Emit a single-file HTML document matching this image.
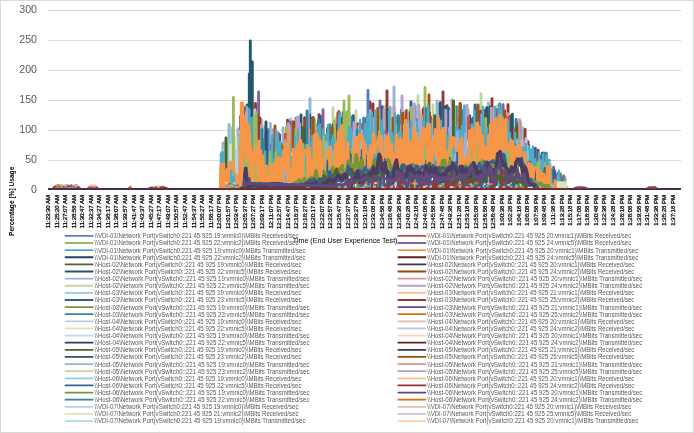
<!DOCTYPE html><html><head><meta charset="utf-8"><style>html,body{margin:0;padding:0;background:#fff}svg{display:block}text{font-family:"Liberation Sans",sans-serif}</style></head><body>
<svg width="694" height="433" viewBox="0 0 694 433">
<rect x="0" y="0" width="694" height="433" fill="#fff"/>
<rect x="0.5" y="0.5" width="693" height="432" fill="none" stroke="#D9D9D9" stroke-width="1"/>
<line x1="48" x2="681" y1="10.5" y2="10.5" stroke="#D9D9D9" stroke-width="1"/>
<line x1="48" x2="681" y1="40.5" y2="40.5" stroke="#D9D9D9" stroke-width="1"/>
<line x1="48" x2="681" y1="70.5" y2="70.5" stroke="#D9D9D9" stroke-width="1"/>
<line x1="48" x2="681" y1="100.5" y2="100.5" stroke="#D9D9D9" stroke-width="1"/>
<line x1="48" x2="681" y1="130.5" y2="130.5" stroke="#D9D9D9" stroke-width="1"/>
<line x1="48" x2="681" y1="160.5" y2="160.5" stroke="#D9D9D9" stroke-width="1"/>
<text x="37" y="193.2" font-size="10.6" fill="#595959" text-anchor="end">0</text>
<text x="37" y="163.2" font-size="10.6" fill="#595959" text-anchor="end">50</text>
<text x="37" y="133.2" font-size="10.6" fill="#595959" text-anchor="end">100</text>
<text x="37" y="103.2" font-size="10.6" fill="#595959" text-anchor="end">150</text>
<text x="37" y="73.2" font-size="10.6" fill="#595959" text-anchor="end">200</text>
<text x="37" y="43.2" font-size="10.6" fill="#595959" text-anchor="end">250</text>
<text x="37" y="13.2" font-size="10.6" fill="#595959" text-anchor="end">300</text>
<g fill="none" stroke-linejoin="round" stroke-linecap="round">
<line x1="48" x2="681" y1="189" y2="189" stroke="#403152" stroke-width="2" stroke-linecap="butt"/>
<path d="M221.8 174V152.2M226 188V151.8M227 188V147.3M228 188V149.4M230.1 172V151.8M232.1 172V135.1M233.2 174.1V158.1M234.5 183V143.6M264.6 162.2V126.9M269 165.5V143.1M270.3 166.2V123.4M274.2 166.1V134.9M282.9 161.4V149.3M301 150V128.3M355.5 143V122M356.2 143V128.2M374.4 142.9V124.9M402.1 139V110.4M424.8 132.1V114.6M431.7 135.7V117.3M437.3 138.4V117.6M439.7 139.8V118.5M441.5 139.7V121.5M456.1 142V119.2M476.6 136.7V106.2M488.4 137.7V102.9M498.3 124V106.3M528.9 163.9V144.9M532.5 166.5V153.1M535.7 168.7V148.2M223 172V143M229 178V124.5M238 184V129M270 164V129M283 159.3V128M310 148.5V98.6M394 142.9V87M437 136.2V101M458 141V107M465 139V106" stroke="#95B3D7" stroke-width="2.9"/>
<path d="M223.9 174V150.3M242 121V111.3M253.9 157.4V106.5M306.6 152.2V121.5M307.4 152.6V121.8M323.1 146.9V126.1M324.4 147.2V133.8M335 142.2V121.2M336.1 140.7V117.6M384.9 145V106.3M391.9 145.5V108.4M397.4 143.6V121.2M408.4 138.2V114.7M417.6 135.5V111.2M442.8 139.4V106.8M443.9 139.2V125.1M452.1 140V122.3M458.9 143.4V125.2M463.6 141.8V124.9M479.9 136V105.9M495.6 127.3V110.8M524.8 159.8V129.2M533.9 167.4V154.8M537 170V157.2M262 158V120M333 143V107.7M339 135V115.9M356 141V111M418 133.4V96M433 134.2V105M448 137V108M481 134.2V93.6M497 123.6V106M546 172.7V157" stroke="#C3D69B" stroke-width="2.9"/>
<path d="M225.3 185.9V142.9M228.7 184.3V140.5M231.1 172V127.9M237.1 186V138.1M284.3 160.2V144.5M290.7 150.2V118.8M294.2 153.4V133.2M341.9 134.1V118.2M362.2 142.8V130.2M511.5 145.6V127.4M523 158V127.8M541.3 173.4V156M298 148V117" stroke="#93CDDD" stroke-width="2.9"/>
<path d="M235.6 185.3V137.6M238.2 186V157.7M230.5 170V145" stroke="#D7E4BD" stroke-width="2.9"/>
<path d="M236.4 186V151M260.5 161.4V127.1M317.2 146.7V127M322.2 146.6V126.1M380 144V120.8M390.5 145.9V114.8M447.7 139V123M457.3 142.6V122.8M465.6 140.6V123.2M512.9 147.2V120.1M520.3 155.3V145.9M543.2 173.9V156.6" stroke="#B9CDE5" stroke-width="2.9"/>
<path d="M240.4 129.5V116.4M248 133V112.7M265.8 163.2V133.6M271.2 166.6V144.7M289.5 146.6V129.4M325.8 147.7V136.3M347.3 145.7V115.6M348.1 144.9V118.3M360.3 143V129.8M364.8 142.5V118.6M376.8 143.4V113.3M386.9 145.4V110.1M395.2 144.5V117M412.1 137.2V120.9M417 135.6V119.6M428.1 133.8V114.8M430.6 135.3V117.6M436.1 137.7V124.1M440.4 139.9V102.4M462.2 142.7V112.1M496.8 125.8V109.6M501.8 124.9V109.6M527.8 162.8V148.6M554.5 188V170.9M557.5 188V178.8M258.6 161.1V92M290 146V122M323 144.9V109.7M353 141V116M380 142V101M503 124.8V104.8M553 186V170" stroke="#8064A2" stroke-width="2.9"/>
<path d="M242.8 121V114.8M257.3 164.2V113.7M278.8 164.1V140.4M279.5 163.8V134.7M287.6 131.6V120.2M293.3 152.7V122M296.1 152.6V118.1M304.6 151V117.7M319.5 146.1V116M327.5 147.7V128.4M330.9 146V127.9M333.1 144.8V124.6M337.9 138.1V113.3M357.9 143V123.9M369.9 142V108M410 138V112.6M423.1 133.2V109.6M424 132.6V107.9M429.6 134.7V113.4M447 139V105.8M452.6 140.3V113.8M472.5 137.5V118.9M475.6 136.9V113.4M480.5 136.1V111.1M484.4 136.9V110.2M492.1 133.8V114.6M494.9 128.1V112.5M507.1 135.9V116.7M517.4 152.1V123.3M538.1 171.1V150.3M251.5 154.4V106M255.5 156V103.5M260 159.8V118M278 162.5V133M319 144.2V114.6M329 145V125.7M370 140V102M373 140.6V104M387 143.4V91M398 141V116M443 137.4V92M485 135V111M492 132V98.6M508 136.4V104.8M525 158V129.4M528 161V141.8M538 169V155" stroke="#953735" stroke-width="2.9"/>
<path d="M243.3 121V107.3M267.9 164.9V129.7M329.8 146.6V124.7M346.6 146.4V122M352 143V117.3M363.6 142.6V118.3M458.3 143.2V128.8M459.8 143.9V117M487.5 137.5V108.2M493.6 130.9V113.6M546.3 174.8V153.3M547.1 175.1V161M553.6 188V167.1M556.1 188V177.5M368 140.2V90.4M415 134V106" stroke="#4F81BD" stroke-width="2.9"/>
<path d="M244.3 121V108M250 145.2V121.3M266.5 163.7V131.6M302 150V138.4M310.7 149.7V118.1M320.4 146.1V116.5M337 139.4V125.5M340.9 135.1V118.5M344.1 143.6V116.5M348.8 144.2V112.6M350.8 143V128.3M353.2 143V115.8M382.2 144.4V106.6M401.4 139.6V110M404.9 138.6V119.7M415.6 135.9V123.8M426.8 133.1V117.3M442.2 139.6V107.9M448.5 139V108.2M473.5 137.3V117.7M477.2 136.6V109.9M479.3 136.1V112.6M490.5 137.1V114.5M503.2 127.2V118.9M535.1 168.1V148.5M539.3 172.3V156.8M542.1 173.6V153.2M549.4 179V160.7M558.2 188V173.6M561 188V178.5M562.3 188V181.1M243 125V121M247 131V105M411 135.6V102M456 140V107M475 135V105M543 171.9V158" stroke="#376092" stroke-width="2.9"/>
<path d="M245.3 121V111.1M252.9 157V117.7M259.4 162.4V141.9M305.3 151.4V137.3M305.9 151.8V129M309.7 150.9V115M311.8 148.3V135.8M339.7 136.3V115.2M343.2 139.6V112.4M388.3 145.7V109M413.5 136.6V118.1M445.3 139V106.8M451.5 139.7V115M460.4 143.7V103.9M469.7 138.2V115.6M486.7 137.3V107.6M489.9 138V114.8M505.7 132V118.6M510 144V116.2M512.3 146.5V114.1M552.5 186.8V171.1M555.4 188V175.6M252.3 154.7V62M250.3 149.4V41M249.3 131V74M266 161.3V122M301 148V115M440 138V103.5M490 136V107M511 143.1V116M520 153V122M532 164.2V151.7M564 188V177" stroke="#215968" stroke-width="2.9"/>
<path d="M246.6 133V112M254.9 157.8V109.8M258 163.6V149.2M276.2 165.3V132.2M288.9 144V125.2M359.2 143V125.7M420.1 134.9V111M438.7 139.2V128M450.7 139.3V110.6M494.3 129.3V108.9M518.1 153V128.1M521.5 156.5V140.9M526.2 161.2V138.5M527.1 162.1V146.1M550 179.9V162" stroke="#CCC1DA" stroke-width="2.9"/>
<path d="M247.1 133V107.8M261.4 160.5V125.3M273.1 166.6V129.8M276.8 165.1V151.2M288.1 136.9V123.5M292 151.8V128.7M296.7 151.7V118.2M297.9 150.1V117.1M298.5 150V120.9M299.6 150V123.8M308.3 152.6V113.7M315.2 147.2V129.2M353.9 143V122.7M354.9 143V123.6M367.7 142.2V130.6M370.4 142.1V110.6M373.1 142.6V118.3M383.7 144.7V129M391.3 145.6V131.6M394.1 144.8V106.7M400 141V126.4M406.2 138.5V123.8M407.2 138.4V110.1M407.8 138.3V120.9M414.2 136.3V103.8M418.8 135.2V105.2M433.2 136.3V120.1M437.9 138.7V115.5M445.8 139V110.3M449.5 139V128.1M454.1 141V109.5M467.1 139.7V105.2M478.7 136.3V127.3M481.9 136.4V114.7M501 123.7V110.5M523.9 158.9V141.9M540.3 173.1V160.5M545.7 174.6V156.1M313 145.8V120M384 142.8V110M390 144V107M402 137V96M452 138V100M468 137.2V110M550 178V165M558 188V176" stroke="#B3A2C7" stroke-width="2.9"/>
<path d="M255.4 158V123.2M308.9 151.8V130M316.6 146.9V124.5M421.6 134V115.8M491.3 135.5V108.1M508 138.4V113.7M519.5 154.5V119.7" stroke="#D99694" stroke-width="2.9"/>
<path d="M256.2 162.9V112.8M286.3 134.2V127.5M295.2 153.7V129.6M314.4 147.4V119.2M334.5 142.9V121M345.3 147.7V113.6M365.7 142.4V125.5M378.8 143.8V110M396.5 144.1V124.7M411.4 137.5V107.6M455 141.5V107.4M485.7 137.1V118.5M518.7 153.6V138M529.9 164.9V152.6M544.9 174.4V156.2M233.4 174V97.5M241 141V137M254 155.4V117M344 141.3V101M349 142V96M347 144V112M425 130V87.5" stroke="#9BBB59" stroke-width="2.9"/>
<path d="M262 160V129.6M263.2 161V139.1M272.5 166.8V139.7M275.3 165.7V133.8M318.3 146.4V120.3M328.8 147.1V126.4M357.2 143V130.2M398.6 142.4V115.9M426.1 132.7V108.8M461.4 143.2V110M470.5 137.9V124.6M499.7 122.4V104M516.1 150.8V119.5M543.8 174.1V152.9M560.4 188V174M307 150.4V111" stroke="#31859C" stroke-width="2.9"/>
<path d="M281.2 162.8V144.2M282.3 161.9V146.7M313.2 147.7V117.5M321.6 146.5V128.8M332.1 145.4V127.9M349.6 143.4V129.7M366.8 142.3V118.1M377.7 143.5V108.4M393 145.1V118.2M402.7 138.9V113.2M409.2 138.1V126.4M428.8 134.3V117.7M504.6 129.3V110.8M275 163.8V126M293 150.5V122M406 136.5V111M429 132.4V95M460 142V103.5M478 134.4V105M516 148.6V128" stroke="#A5520F" stroke-width="2.9"/>
<path d="M285.4 144.8V134.1M338.8 137.2V111.5M361.6 142.8V124.4M386 145.2V131.3M468.6 138.9V117.1M508.8 140.7V117.4M514.3 148.7V130.1M563.7 188V176" stroke="#C0504D" stroke-width="2.9"/>
<path d="M303.2 150.1V128M403.7 138.8V122.6M434.7 136.9V115.7M516.8 151.5V126.6M226 186V138M453.5 138.8V101" stroke="#4F6228" stroke-width="2.9"/>
<path d="M220 187.5l.5 0 .5-21.4 .5 21.4 .5-23.1 .5 23.1 .5-16.8 .5 16.8 .5-18.1 .5 18.1 .5-7.3 .5 7.3 .5-7.2 .5 7.2 .5-7.6 .5 7.6 .5-11.1 .5 11.1 .5-12.3 .5 12.3 .5-10.5 .5 10.5 .5-18 .5 18 .5-10.7 .5 10.7 .5-10.7 .5 10.7 .5-12.6 .5 12.6 .5-14.6 .5 14.6 .5-9.7 .5 9.7 .5-6.7 .5 6.7 .5-4.6 .5 4.6 .5-8.1 .5 8.1 .5-23.8 .5 23.8 .5-39.8 .5 39.8 .5-39.2 .5 39.2 .5-76.5 .5 75.3 .5-30.5 .5 23.2 .5-42.2 .5 34.2 .5-49.2 .5 57.2 .5-40.9 .5 45.6 .5-57 .5 56.3 .5-30.1 .5 30.1 .5-38 .5 40.7 .5-25.8 .5 25.1 .5-28.3 .5 27.6 .5-28 .5 28.4 .5-18.6 .5 19.9 .5-16.2 .5 17.5 .5-31.2 .5 31.4 .5-12.7 .5 12.3 .5-35.1 .5 34.5 .5-12.6 .5 12 .5-22 .5 21.4 .5-16.8 .5 16.9 .5-26.5 .5 27.2 .5-12.9 .5 13.7 .5-28.8 .5 29.4 .5-16.7 .5 16.7 .5-21.7 .5 21.7 .5-19.4 .5 19.2 .5-20.5 .5 20.2 .5-14 .5 13.7 .5-21.3 .5 21 .5-16.8 .5 16.5 .5-50.3 .5 50.1 .5-27.2 .5 27.1 .5-14.2 .5 14.1 .5-18.4 .5 18.3 .5-54.9 .5 54.7 .5-28.8 .5 28.7 .5-25 .5 24.9 .5-31.6 .5 31.5 .5-28.9 .5 28.9 .5-20.3 .5 20.5 .5-19 .5 19.2 .5-35.5 .5 35.7 .5-13.5 .5 13.7 .5-46.2 .5 46.4 .5-35.9 .5 36.1 .5-45.1 .5 45.3 .5-42.3 .5 42.5 .5-37.7 .5 37.9 .5-39.5 .5 39.5 .5-30.6 .5 30.4 .5-24.2 .5 24 .5-25.4 .5 25.2 .5-16.9 .5 16.7 .5-49.2 .5 49 .5-32.1 .5 31.9 .5-25.5 .5 24.8 .5-55.3 .5 54.5 .5-29.8 .5 29 .5-41.1 .5 40.5 .5-15.2 .5 15 .5-39.4 .5 39 .5-32.8 .5 32.6 .5-29.8 .5 29.4 .5-26.9 .5 26.7 .5-36.8 .5 36.4 .5-15 .5 14.8 .5-14.9 .5 14.5 .5-22.7 .5 22.5 .5-37.4 .5 37 .5-29 .5 28.8 .5-43.2 .5 42.8 .5-33 .5 32.8 .5-33.2 .5 32.8 .5-28.3 .5 28.1 .5-40.3 .5 39.9 .5-43.5 .5 43.3 .5-51.2 .5 50.8 .5-38.5 .5 38.3 .5-52.9 .5 52.6 .5-22.4 .5 22.2 .5-30.8 .5 30.6 .5-47.1 .5 46.9 .5-37 .5 36.8 .5-26.8 .5 26.6 .5-21.1 .5 20.9 .5-20.4 .5 20.2 .5-50.7 .5 50.5 .5-33.3 .5 33.1 .5-24.3 .5 24.1 .5-19.5 .5 19.3 .5-35.2 .5 35 .5-39.1 .5 38.9 .5-33.8 .5 33.6 .5-28.5 .5 28.3 .5-30.9 .5 30.7 .5-16.9 .5 16.7 .5-38.4 .5 38.2 .5-58.1 .5 57.9 .5-60.5 .5 60.4 .5-19.4 .5 19.2 .5-22.5 .5 22.5 .5-18.7 .5 18.5 .5-34.8 .5 34.8 .5-29.1 .5 28.9 .5-19.6 .5 19.6 .5-20.9 .5 20.7 .5-35.8 .5 35.8 .5-44.5 .5 44.3 .5-28.3 .5 28.3 .5-43.8 .5 43.6 .5-28.7 .5 28.7 .5-27.1 .5 26.9 .5-19.7 .5 19.7 .5-29.7 .5 29.5 .5-31.2 .5 31.2 .5-29.5 .5 29.3 .5-26.5 .5 26.5 .5-16.9 .5 16.7 .5-35.7 .5 35.7 .5-40.1 .5 40.1 .5-26.4 .5 26.4 .5-34.6 .5 34.6 .5-27.8 .5 27.8 .5-46.9 .5 46.9 .5-30.9 .5 30.9 .5-54.4 .5 54.4 .5-18.1 .5 18.1 .5-39.9 .5 39.9 .5-19.2 .5 19.2 .5-40.6 .5 40.6 .5-22.4 .5 22.4 .5-32.4 .5 32.4 .5-20.7 .5 20.7 .5-34.5 .5 34.5 .5-32.7 .5 32.7 .5-24.4 .5 24.4 .5-33.9 .5 33.9 .5-24.3 .5 24.3 .5-35.9 .5 35.9 .5-36.2 .5 36.2 .5-33.8 .5 33.8 .5-28 .5 28 .5-30.2 .5 30.2 .5-31.8 .5 31.8 .5-32 .5 32 .5-23.2 .5 23.2 .5-16.7 .5 16.7 .5-23 .5 23 .5-15.9 .5 15.9 .5-34.5 .5 34.3 .5-37.6 .5 37.6 .5-34.2 .5 34 .5-32.3 .5 32.3 .5-57.1 .5 56.9 .5-19.8 .5 19.8 .5-22.6 .5 22.4 .5-31 .5 31 .5-37.8 .5 37.6 .5-37.2 .5 37.2 .5-37.7 .5 37.8 .5-27 .5 27 .5-25.6 .5 25.7 .5-24.7 .5 24.7 .5-33.1 .5 33.2 .5-15 .5 15 .5-47.6 .5 47.7 .5-42.8 .5 42.8 .5-20.5 .5 20.6 .5-41.1 .5 41.1 .5-49.2 .5 49.3 .5-39.5 .5 39.5 .5-24.8 .5 24.9 .5-19.1 .5 19.1 .5-28.5 .5 28.6 .5-48.7 .5 48.7 .5-48.4 .5 48.5 .5-37.6 .5 37.6 .5-40.8 .5 40.9 .5-24.9 .5 24.9 .5-40.6 .5 40.6 .5-28.2 .5 28.2 .5-49.8 .5 49.8 .5-41 .5 41 .5-27.9 .5 27.9 .5-20 .5 20 .5-38 .5 38 .5-66 .5 66 .5-17.8 .5 17.8 .5-34.4 .5 34.4 .5-43.2 .5 43.2 .5-16.2 .5 16.2 .5-23.5 .5 23.5 .5-36.6 .5 36.6 .5-22.5 .5 22.5 .5-37.9 .5 37.9 .5-40 .5 40 .5-47.4 .5 47.4 .5-27.3 .5 27.3 .5-20.6 .5 20.6 .5-16 .5 15.9 .5-38.6 .5 38.6 .5-26 .5 25.9 .5-42.9 .5 42.9 .5-34.1 .5 34 .5-37.5 .5 37.5 .5-35 .5 34.9 .5-17.4 .5 17.4 .5-37.3 .5 37.2 .5-23.3 .5 23.3 .5-26.9 .5 26.8 .5-30.9 .5 30.9 .5-18.9 .5 18.8 .5-25.6 .5 25.6 .5-30.5 .5 30.4 .5-43 .5 43 .5-41.7 .5 41.6 .5-19.8 .5 19.8 .5-40.1 .5 40 .5-39.1 .5 39.1 .5-31.1 .5 31 .5-44.1 .5 44.1 .5-41.1 .5 41 .5-63.8 .5 63.8 .5-24.9 .5 24.8 .5-23.8 .5 23.8 .5-14.7 .5 14.6 .5-17.5 .5 17.5 .5-35.6 .5 35.5 .5-32.7 .5 32.7 .5-20.8 .5 20.7 .5-40.6 .5 40.6 .5-25.7 .5 25.6 .5-38.2 .5 38.2 .5-17.1 .5 17 .5-29.7 .5 29.7 .5-27.4 .5 27.3 .5-37.2 .5 37.2 .5-42.6 .5 42.5 .5-42.9 .5 42.8 .5-26.5 .5 26.3 .5-17.6 .5 17.4 .5-46.5 .5 46.3 .5-28.1 .5 27.9 .5-29 .5 28.8 .5-32.2 .5 32 .5-39.8 .5 39.6 .5-16.5 .5 16.3 .5-24.9 .5 24.7 .5-33.2 .5 33 .5-29 .5 28.8 .5-20 .5 19.8 .5-43.1 .5 42.9 .5-39.6 .5 39.4 .5-59.1 .5 58.5 .5-44.4 .5 43.4 .5-29.8 .5 28.8 .5-47.6 .5 46.6 .5-57.5 .5 56.5 .5-35.8 .5 35.8 .5-53.5 .5 54.5 .5-38.3 .5 39.3 .5-46.3 .5 47.3 .5-23.7 .5 24.7 .5-30.4 .5 31.4 .5-36.4 .5 37.4 .5-16.9 .5 17.9 .5-47.8 .5 48.8 .5-26.8 .5 27.8 .5-37.3 .5 37.2 .5-17.6 .5 16.4 .5-26.9 .5 25.7 .5-25 .5 23.8 .5-25.4 .5 24.2 .5-17.6 .5 16.9 .5-12.8 .5 12.6 .5-15.4 .5 15.2 .5-21 .5 20.8 .5-15.1 .5 14.9 .5-13.1 .5 13.9 .5-10.6 .5 12.4 .5-11.6 .5 13.4 .5-21.1 .5 22.9 .5-19.3 .5 21.1 .5-18.3 .5 20.2 .5-29.9 .5 31.9 .5-14.6 .5 16.6 .5-17.5 .5 19.5 .5-33.1 .5 35.1 .5-21.5 .5 22.4 .5-24.2 .5 24.7 .5-19 .5 19.4 .5-37.4 .5 37.9 .5-16.9 .5 17.4 .5-26 .5 26.4 .5-21.2 .5 21.6 .5-14.6 .5 15 .5-11.2 .5 11.6 .5-34.1 .5 34.5 .5-20 .5 20.4 .5-20.9 .5 21.2 .5-20.4 .5 20.4 .5-33 .5 33 .5-22.7 .5 22.7 .5-20.1 .5 20.1 .5-27.9 .5 27.9 .5-31.4 .5 31.4 .5-9.2 .5 9.2 .5-21.1 .5 21.1 .5-16.7 .5 16.7 .5-6.8 .5 6.8 .5-6.9 .5 6.9 .5-4.5 .5 4.5 .5-9.4 .5 9.4 .5-14.5 .5 14.5 .5-5 .5 5 .5-6.3 .5 6.3 .5-6.2 .5 6.2 .5-16.5 .5 16.5 .5 0 .5 0 .5-5.4 .5 5.4 .5 0 .5 0 .5 0 .5 0 .5 0 .5 0 .5 0 .5 0 .5 0 .5 0 .5 0" stroke="#4BACC6" stroke-width="2.3"/>
<path d="M221 174V153.7M223.1 174V152.3M239.3 186V161.3M241.4 121V111.7M249.3 133V109.6M251.5 156.4V118.2M265.1 162.6V151.5M277.9 164.6V133.6M280.3 163.3V141.7M326.8 148V134.5M368.5 142.2V114.4M371.7 142.3V112.7M375.5 143.1V110.5M381.3 144.3V120.6M383 144.6V130.1M389.2 145.8V110.7M441 139.8V121.1M464.5 141.3V121.3M471.9 137.6V124.8M474.4 137.1V110.6M482.9 136.6V107.1M515.2 149.8V133M531.1 165.7V149.8M548.1 176.9V160.1M551.3 183.6V169.4M559.2 188V183.3M565.1 188V178.3M360 141V120" stroke="#4BACC6" stroke-width="2.5"/>
<path d="M220.5 187l1.1 0 1.2 0 1.2 0 1.1-2.3 1.2 2.3 1.1 0 1.2-5.4 1.1 5.4 1.2 0 1.1 0 1.2 0 1.1 0 1.2 0 1.1 0 1.2 0 1.1 0 1.2-53.6 1.1 7.7 1.2 45.9 1.1-3.7 1.2-8.5 1.1-4.4 1.2 7.7 1.1 4.3 1.2-3.9 1.1 4.2 1.2-.7 1.1-.8 1.2 .9 1.1 1.6 1.2 1.2 1.1-33 1.2 31.6 1.1-.7 1.2-.7 1.1 .6 1.2 .8 1.1 .9 1.2 .5 1.1-.3 1.2-.4 1.1-.3 1.2-.3 1.1-.3 1.2-.3 1.1-.2 1.2-.1 1.1-.2 1.2-.1 1.1-.2 1.2-.1 1.1 0 1.2 .2 1.1 .2 1.2 .3 1.1-31.4 1.2-8 1.1 40 1.2 .3 1.1 .2 1.2 0 1.1-.3 1.2-14.5 1.1 14.1 1.2-.3 1.1-.2 1.2-.7 1.1-1 1.2-.9 1.1-.4 1.2-.3 1.1-.4 1.2-.3 1.1-.4 1.2-.3 1.1-.4 1.2-.3 1.1-.4 1.2-.3 1.1-.4 1.2-14.7 1.1 14.1 1.2-.4 1.1-22.2 1.2 21.5 1.1-6.1 1.2 5.5 1.1-.2 1.2-.3 1.1-.2 1.2-.2 1.1-31.2 1.2 30.7 1.1-19.8 1.2 11 1.1-16.5 1.2 24.4 1.1-.2 1.2-.3 1.1-.2 1.2-.2 1.1-.3 1.2-.2 1.1-.2 1.2-.1 1.1-.1 1.2-.2 1.1-.1 1.2-.1 1.1-.1 1.2-5.3 1.1 5.1 1.2-.1 1.1-.2 1.2-18 1.1-19.6 1.2 14.1 1.1 23.1 1.2-30.2 1.1 6.6 1.2-2.3 1.1 25.5 1.2-37.7 1.1 28.8 1.2 8.9 1.1 0 1.2 0 1.1 0 1.2-8.8 1.1 8.8 1.2 0 1.1 0 1.2 0 1.1 0 1.2 0 1.1 0 1.2-9.2 1.1 9.2 1.2-5.8 1.1 5.8 1.2 0 1.1 0 1.2-32.8 1.1 32.8 1.2-6.3 1.1-28 1.2 34.3 1.1-.1 1.2-.1 1.1-.1 1.2-.1 1.1-.1 1.2-13.6 1.1 6.4 1.2 6.8 1.1-.1 1.2 .1 1.1 0 1.2 .1 1.1 0 1.2 .1 1.1 0 1.2-42.8 1.1 43 1.2 0 1.1 .1 1.2-1.2 1.1 1.3 1.2-45.7 1.1 45.8 1.2-34.7 1.1 34.8 1.2 .1 1.1-48.1 1.2 48.1 1.1 0 1.2 0 1.1 0 1.2 0 1.1-44.5 1.2 44.5 1.1 0 1.2 0 1.1 0 1.2 0 1.1 0 1.2 0 1.1-33.6 1.2 30.3 1.1 3.3 1.2 0 1.1-.1 1.2-33.7 1.1 33.6 1.2 0 1.1-.1 1.2-.1 1.1 0 1.2-15.6 1.1-25 1.2 35.5 1.1 4.9 1.2-.1 1.1-12.7 1.2 12.6 1.1-35.1 1.2 17.9 1.1 17 1.2-26.6 1.1-1.4 1.2 27.8 1.1-14.4 1.2-18.9 1.1 33.2 1.2-3.2 1.1 3.1 1.2-.1 1.1-.1 1.2 0 1.1-.1 1.2 0 1.1-.1 1.2-28.3 1.1 28.2 1.2-27.7 1.1 27.5 1.2-5.7 1.1 5.3 1.2-.3 1.1-.2 1.2-.2 1.1-.3 1.2-29.4 1.1 .9 1.2 27.8 1.1-.2 1.2-.2 1.1-.2 1.2-.6 1.1-1.1 1.2-1.2 1.1-1.1 1.2-3.7 1.1 3.6 1.2 1.2 1.1 1.1 1.2-34.2 1.1 36.5 1.2-16.7 1.1 19 1.2 1.2 1.1-17.2 1.2 16.3 1.1-1.4 1.2-1.4 1.1-1.4 1.2-.3 1.1-22.1 1.2 21.6 1.1-.2 1.2 1.1 1.1 2 1.2 2.1 1.1 2.1 1.2 2.1 1.1 2.3 1.2-21.9 1.1 26.5 1.2 2.2 1.1 .5 1.2-9.8 1.1 10.9 1.2 .5 1.1 .5 1.2 .5 1.1 .5 1.2 .4 1.1 .5 1.2 .4 1.1 .5 1.2 .4 1.1 .1 1.2 .2 1.1 .1 1.2-9.8 1.1 10 1.2 .2 1.1 .1 1.2 .1 1.1 .2 1.2 .1 1.1 .1 1.2 .1 1.1 .1 1.2 0 1.1 0 1.2 0 1.1 0 1.2 0 1.1 0" stroke="#95B3D7" stroke-width="2.3"/>
<path d="M220.5 180.7l1.1 6.3 1.2-1.6 1.2 1.6 1.1 0 1.2 0 1.1 0 1.2 0 1.1 0 1.2 0 1.1 0 1.2 0 1.1 0 1.2 0 1.1 0 1.2 0 1.1-.8 1.2 .8 1.1-48.2 1.2 48.2 1.1-3.7 1.2-8.5 1.1-23.9 1.2 27.2 1.1 4.3 1.2-21.5 1.1 21.8 1.2-.7 1.1-20.7 1.2 20.8 1.1-27.4 1.2 30.2 1.1-.7 1.2-11.3 1.1 9.9 1.2-.7 1.1 .6 1.2-26.5 1.1 28.2 1.2 .5 1.1-.3 1.2-.4 1.1-1.9 1.2-30.4 1.1 31.4 1.2-.3 1.1-.2 1.2-.1 1.1-30.6 1.2 30.3 1.1-23.7 1.2 12.8 1.1-10 1.2 20.8 1.1 .2 1.2 .3 1.1 .2 1.2 .2 1.1 .2 1.2 .3 1.1 .2 1.2 0 1.1-.3 1.2-.2 1.1-.2 1.2-.3 1.1-.2 1.2-.7 1.1-1 1.2-.9 1.1-.4 1.2-.3 1.1-34.9 1.2 34.2 1.1-.4 1.2-2.8 1.1 2.1 1.2-.3 1.1-.4 1.2-.3 1.1-.4 1.2-.3 1.1-.3 1.2-36.9 1.1 36.2 1.2-38.4 1.1 37.7 1.2-10.4 1.1 9.8 1.2-.2 1.1-36.9 1.2 36.5 1.1-19.5 1.2 19 1.1-10.2 1.2 9.7 1.1-.2 1.2-.2 1.1-19.5 1.2 4.5 1.1 12.8 1.2 1.3 1.1-.3 1.2-.2 1.1-.2 1.2-.1 1.1-.1 1.2-.2 1.1-.1 1.2-.1 1.1-.1 1.2-.1 1.1-.1 1.2-.1 1.1-19 1.2 18.7 1.1-.1 1.2-.1 1.1-.1 1.2-6.5 1.1 6.2 1.2-9.4 1.1 9.3 1.2 0 1.1 0 1.2 0 1.1 0 1.2 0 1.1 0 1.2 0 1.1 0 1.2-7.9 1.1-5.4 1.2 13.3 1.1 0 1.2 0 1.1 0 1.2 0 1.1-36.5 1.2 36.5 1.1 0 1.2 0 1.1 0 1.2 0 1.1 0 1.2 0 1.1 0 1.2-30.1 1.1 30 1.2-.1 1.1-.1 1.2-8.3 1.1 8.1 1.2-29.7 1.1 29.4 1.2-.1 1.1-.1 1.2 .1 1.1 0 1.2 .1 1.1-42.4 1.2 42.5 1.1 0 1.2 .1 1.1-7.4 1.2 7.5 1.1 .1 1.2 0 1.1-27.4 1.2 27.5 1.1 .1 1.2 .1 1.1 0 1.2 .1 1.1 0 1.2 0 1.1 0 1.2-22.8 1.1 22.8 1.2 0 1.1 0 1.2 0 1.1 0 1.2 0 1.1 0 1.2 0 1.1 0 1.2 0 1.1 0 1.2 0 1.1 0 1.2 0 1.1-.1 1.2 0 1.1-.1 1.2 0 1.1-.1 1.2-.1 1.1 0 1.2-.1 1.1-26.1 1.2 26 1.1 0 1.2-.1 1.1-.1 1.2 0 1.1-.1 1.2 0 1.1-.1 1.2 0 1.1-.1 1.2-.1 1.1 0 1.2-.1 1.1 0 1.2-.1 1.1-7.7 1.2-15.3 1.1 21.9 1.2 .9 1.1-.1 1.2 0 1.1-.1 1.2-32.8 1.1 32.7 1.2-.1 1.1-.1 1.2-.2 1.1-.2 1.2-1.9 1.1 1.4 1.2-.2 1.1-.3 1.2-.2 1.1-.2 1.2-.3 1.1-.2 1.2-.2 1.1-.2 1.2-.6 1.1-1.1 1.2-1.2 1.1-1.1 1.2-1.2 1.1 1.1 1.2 1.2 1.1 1.1 1.2 1.2 1.1-22.2 1.2 24.5 1.1 1.1 1.2-11.9 1.1 13.5 1.2-1.3 1.1-1.4 1.2-6.5 1.1 3.7 1.2-.3 1.1-3.4 1.2 2.9 1.1-.2 1.2 1.1 1.1 2 1.2 2.1 1.1-7.7 1.2-2.3 1.1 16.5 1.2 .6 1.1 4 1.2 2.2 1.1 .5 1.2 .6 1.1 .4 1.2 .6 1.1 .5 1.2 .5 1.1-20.7 1.2 5.1 1.1 17 1.2 .4 1.1-13.6 1.2 14.5 1.1-22.1 1.2 22.4 1.1 .1 1.2 .1 1.1 .1 1.2 .2 1.1 .1 1.2 .1 1.1 .2 1.2 .1 1.1-4.4 1.2 4.6 1.1 .1 1.2 0 1.1 0 1.2 0 1.1 0 1.2 0 1.1 0" stroke="#9BBB59" stroke-width="2.3"/>
<path d="M322.9 182.8V170.8M324 184.7V172.7M327.5 172.6V160.6M328.6 173.4V161.4M329.8 175.6V163.6M332.1 182.7V170.7M349.3 163.6V151.6M350.5 166.7V154.7M351.6 177.8V165.8M352.8 178.6V166.6M353.9 175.5V163.5M355.1 177.5V165.5M356.2 177.8V165.8M357.4 167.1V155.1M358.5 174.5V162.5M359.7 169.9V157.9M360.8 174.3V162.3M362 162.3V150.3M365.4 166V154M367.7 171.8V159.8M368.9 174.8V162.8M370 171.2V159.2M380.4 175.9V163.9M381.5 172.7V160.7M382.7 169.5V157.5M383.8 170.3V158.3M385 173.4V161.4M386.1 167.8V155.8M387.3 166.6V154.6M411.4 176.8V164.8M412.6 177.7V165.7M413.7 166.2V154.2M414.9 168.5V156.5M416 179.8V167.8M417.2 169.3V157.3M418.3 176.5V164.5M426.4 173.2V161.2M436.7 173.3V161.3M437.9 173.3V161.3M439 171V159M440.2 169.8V157.8M441.3 173.6V161.6M448.2 175V163M449.4 169.9V157.9M456.3 174V162M457.4 162.6V150.6M480.4 175.3V163.3M481.6 165.8V153.8M482.7 170.7V158.7M483.9 167.3V155.3M486.2 164.2V152.2M487.3 166.9V154.9M488.5 158.3V146.3M491.9 160.3V148.3M512.6 175.6V163.6M513.8 157.9V145.9M514.9 156.8V144.8M524.1 164.5V152.5M528.7 173.9V161.9M529.9 174.1V162.1M534.5 181.3V169.3M535.6 185.7V173.7M543.7 183.8V171.8M544.8 180.3V168.3M547.1 187V185.1M549.4 187V177.5M554 182V170M555.2 183.6V171.6M562.1 187V185.9M565.5 187V185.8" stroke="#376092" stroke-width="2.4"/>
<path d="M220 188l.5-18.7 .5-5.3 .5 5.3 .5-5.3 .5 24 .5-24 .5 24 .5-24 .5 24 .5-17 .5 17 .5-10 .5 10 .5-19.1 .5 19.1 .5-19.1 .5 19.1 .5-18 .5-1.9 .5-6.1 .5 6.1 .5-6.1 .5 6 .5-6 .5 5.6 .5-5.6 .5 5.6 .5 4.4 .5 1 .5 1 .5 1 .5 1 .5 9.9 .5-9.9 .5 9.9 .5-9.6 .5 0 .5 0 .5 0 .5-32.5 .5 41 .5-81.8 .5 81.8 .5-81.8 .5 81.7 .5-81.7 .5 53.7 .5-40.6 .5 33.2 .5-33.2 .5 25.2 .5-19.2 .5 35.5 .5-33.1 .5 37.8 .5-37.8 .5 37.1 .5-37.1 .5 37.1 .5-27.1 .5 48.1 .5-36.4 .5 35.7 .5-29.5 .5 28.8 .5-28.4 .5 28.8 .5-28.4 .5 8.2 .5-13.6 .5 14.9 .5-11.2 .5 11.6 .5-13.6 .5 13 .5-20.9 .5 42.9 .5-43.8 .5 43.2 .5-32.4 .5 30.7 .5-31.6 .5 35.8 .5-31.4 .5 32.1 .5-31.3 .5 32.1 .5-21.3 .5 16.8 .5-15.9 .5 16.1 .5-18.2 .5 19 .5-18.1 .5 17.8 .5-7.7 .5 7.4 .5-6.9 .5 7.8 .5-7.3 .5 7 .5-20.3 .5 20 .5-19.5 .5 19.7 .5-20.1 .5 19.9 .5-19.7 .5 19.6 .5-20 .5 23.7 .5-28 .5 27.9 .5-28.3 .5 28.2 .5-29.4 .5 27 .5-27.5 .5 27.4 .5-25.8 .5 20.7 .5-21.2 .5 21.4 .5-22.3 .5 22.5 .5-29.2 .5 18.1 .5-18.9 .5 19.1 .5-27.9 .5 28.1 .5-13.1 .5 13.3 .5-16 .5 30.2 .5-53.1 .5 53.3 .5-44 .5 44.2 .5-17 .5 16.7 .5-13.7 .5 13.5 .5-12.8 .5 10.6 .5-32.8 .5 32.6 .5-31.8 .5 31.6 .5-30.9 .5 37.6 .5-38.9 .5 38.9 .5-42.2 .5 42.2 .5-43.5 .5 41 .5-45.1 .5 44.3 .5-44.3 .5 45.9 .5-45.9 .5 45.6 .5-35.6 .5 35.3 .5-35.3 .5 .3 .5 .3 .5-1.5 .5 .3 .5 .3 .5 4 .5 .3 .5 .3 .5 21.7 .5-31.1 .5 36 .5-32.1 .5 31.8 .5-33 .5 32.7 .5-19.8 .5 14.5 .5-15.7 .5 15.4 .5-15.7 .5 15.4 .5-40.2 .5 14.4 .5-14.6 .5 14.3 .5-14.6 .5 40.3 .5-40.5 .5 40.2 .5-29.7 .5 29.4 .5-32.8 .5 38.5 .5-38.7 .5 38.5 .5-38.2 .5 38 .5-15.8 .5 .1 .5 .2 .5 .1 .5 .2 .5 .1 .5 .2 .5-3.9 .5-7.4 .5 .8 .5-.5 .5 .3 .5-.8 .5 .6 .5-6 .5 23 .5-23.5 .5 23.3 .5-.4 .5 .2 .5-.7 .5 1.9 .5-2.4 .5 2.2 .5-3.6 .5 3.4 .5-25.7 .5 27.5 .5-28.9 .5 28.7 .5-30.1 .5 29.9 .5-40.5 .5 41.2 .5-42.2 .5 42 .5-43 .5 42.9 .5-46.2 .5 46.8 .5-47.8 .5 47.7 .5-38.1 .5 38 .5-33.3 .5 30.8 .5 2.4 .5-.5 .5-.5 .5-.5 .5-28.2 .5 11.7 .5-12.7 .5 12.6 .5 9 .5-.5 .5-.5 .5 1.5 .5 0 .5 0 .5 0 .5 0 .5 0 .5 5.9 .5-25.5 .5 25.4 .5-32.7 .5 32.6 .5-32.6 .5 35.4 .5-35.4 .5 35.3 .5-35.3 .5 35.2 .5-38.1 .5 4.9 .5-4.9 .5 4.8 .5-4.7 .5 4.7 .5-4.8 .5 7.2 .5-.1 .5 28.2 .5-28.3 .5 28.3 .5-25.2 .5 0 .5 8.2 .5-.1 .5 0 .5-.1 .5 0 .5 22.6 .5-22.7 .5 22.7 .5-29.6 .5 20.3 .5-20.1 .5 20.1 .5-19.9 .5 7.2 .5-19.9 .5 19.9 .5-19.7 .5 19.7 .5-14.6 .5 14.6 .5-12.1 .5 3.8 .5-3.6 .5 3.6 .5-3.4 .5 3.4 .5-9.2 .5 9.2 .5-9 .5 34.5 .5-34.4 .5 34.4 .5-34.2 .5 34.2 .5-14.2 .5 .1 .5 .1 .5 .1 .5 .1 .5 .1 .5-19.9 .5 29.6 .5-29.4 .5 29.4 .5-29.2 .5 29.2 .5-29 .5 32.2 .5-24.9 .5 24.8 .5-25.1 .5 25 .5-25.3 .5 24.5 .5-14.1 .5 14 .5-14.2 .5 14.1 .5-14.4 .5 14.3 .5-32.9 .5 33.7 .5-34 .5 33.9 .5-23.7 .5 23.6 .5-28.4 .5 31.4 .5-32.4 .5 32.3 .5-33.3 .5 33.4 .5-31.7 .5 31.7 .5-31.8 .5 27.6 .5-43.1 .5 43.1 .5-47.5 .5 55.4 .5-55.5 .5 55.5 .5-44.1 .5 44.2 .5-32.7 .5 24.8 .5-24.9 .5 25 .5-25.6 .5 26.6 .5-27 .5 27 .5-27.4 .5 27.5 .5-41.4 .5 45.7 .5-46.1 .5 46.1 .5-40.4 .5 40.5 .5-40.7 .5 35.7 .5-29.9 .5 30 .5-30.2 .5 30.2 .5-27.6 .5 27.7 .5-27.9 .5 30.3 .5-30.9 .5 30.9 .5-42.6 .5 42.6 .5-43.2 .5 17.5 .5-15.5 .5 15.5 .5-16.1 .5 16.1 .5-15.5 .5 15.5 .5-19.1 .5 43.2 .5-42.6 .5 42.6 .5-42 .5 42 .5-45 .5 43.9 .5-28.8 .5 28.8 .5-28.4 .5 28.4 .5-28 .5 13.9 .5-13.5 .5 13.5 .5-24.8 .5 24.8 .5-24.2 .5 24.2 .5-23.6 .5 39.9 .5-52.6 .5 52.6 .5-52 .5 52 .5-39.8 .5 42 .5-42.2 .5 42.2 .5-42.4 .5 42.3 .5-44.1 .5 41.1 .5-41.3 .5 41.2 .5-41.6 .5 37.8 .5-14 .5 14 .5-14 .5 13.9 .5-13.9 .5 0 .5 0 .5-3.1 .5-11.7 .5 11.7 .5-11.2 .5 11.1 .5-10.6 .5 7.5 .5-8 .5 8 .5-7.5 .5 7.4 .5-6.9 .5 11.5 .5 .3 .5 .2 .5 .3 .5 .2 .5 .3 .5 .2 .5-9 .5 29.1 .5-28.6 .5 28.5 .5-33 .5 33 .5-33.6 .5 30.5 .5-6.2 .5 6.2 .5-6.8 .5 6.7 .5-7.3 .5 6.1 .5-10 .5 11.6 .5-12.2 .5 12.2 .5-12.8 .5 12.7 .5-37.4 .5 37.4 .5-38 .5 18.4 .5-13.5 .5 13.4 .5-20.2 .5 20.2 .5-20.4 .5 37.1 .5-25.8 .5 25.8 .5-26 .5 0 .5-16.3 .5 16.2 .5-16.4 .5 16.4 .5-16.6 .5 46.1 .5-40.6 .5 40.5 .5-40.7 .5 40.6 .5-33.3 .5 32.7 .5-32.5 .5 32.3 .5-32.1 .5 31.9 .5-21 .5 21.9 .5-21.7 .5 21.5 .5-21.3 .5 21.1 .5-20.9 .5 24.4 .5-34 .5 32.7 .5-32.5 .5 32.3 .5-45.4 .5 40.5 .5-42.5 .5 42.3 .5-39.7 .5 39.5 .5-41.5 .5 45.6 .5-47.4 .5 47.2 .5-49.2 .5 48.6 .5-49.8 .5 39.3 .5-26.1 .5 25.1 .5-26.3 .5 25.3 .5-39.4 .5 46.3 .5-47.5 .5 47.5 .5-45.9 .5 46.9 .5-44.4 .5 25.6 .5-24 .5 25 .5-25.4 .5 27.9 .5-26.3 .5 27.3 .5-29.9 .5 30.9 .5-6.5 .5 1.4 .5 1.4 .5 1.4 .5 1.4 .5 1.4 .5 1.4 .5-11.7 .5-.8 .5 30.5 .5-29.4 .5 28.2 .5-27.1 .5 25.9 .5-22.5 .5 21.3 .5-20.2 .5 19.5 .5-18.4 .5 18.2 .5-17.1 .5 14.3 .5 .6 .5 .5 .5-19 .5 .5 .5 .6 .5 .5 .5 .5 .5 25.1 .5 .5 .5 .5 .5 .5 .5-7.3 .5-14.3 .5 16.1 .5-15.1 .5 17 .5-5.9 .5 9.2 .5-8.2 .5 10.2 .5-9.2 .5 11.9 .5-15.3 .5 17.3 .5-16.3 .5 18.5 .5-17.9 .5 18.3 .5-17.7 .5 18.2 .5-15.4 .5 15.9 .5-15.3 .5 .3 .5-1.3 .5 1.3 .5-.3 .5 .7 .5 .3 .5 15.4 .5-15.2 .5 15.6 .5-14.6 .5 15 .5-10.3 .5 12.8 .5-15.1 .5 15.1 .5-14.9 .5 9.6 .5-9.3 .5 9.7 .5-9.4 .5 9.5 .5-4.8 .5 9.6 .5-9.3 .5 9.3 .5-21.1 .5 21.1 .5-19.4 .5 19.4 .5-21.9 .5 3.3 .5-1.7 .5 20.3 .5 0 .5 0 .5 0 .5 0 .5-1.4 .5 1.4 .5-.4 .5 .4 .5-7.9 .5 7.9 .5-6.9 .5 1.2 .5-.2 .5 5.9 .5 0 .5 0 .5 0 .5 0 .5 0 .5 0 .5 0 .5 0 .5 0 .5 0 .5 0 .5 0 .5 0 .5 0 .5 0 .5 0 .5 0 .5 0 .5 0" stroke="#F79646" stroke-width="2.4"/>
<path d="M302 186.1l.5 1.9 .5-2 .5 2M321 183.7l.5 4.3 .5-4.5 .5 4.5 .5-4.6 .5 4.6 .5-4 .5 4 .5-4.2M329 181.6l.5 6.4 .5-6.5M332.5 188l.5-6.3 .5 6.3 .5-6.5 .5 6.5 .5-4.7 .5 4.7 .5-4.8 .5 4.8M338.5 188l.5-4.2 .5 4.2 .5-4.4 .5 4.4 .5-4.3 .5 4.3 .5-4.5 .5 4.5 .5-3.8 .5 3.8 .5-4 .5 4M346.5 188l.5-2.3 .5 2.3 .5-2.3M350 178.8l.5 9.2 .5-9.5M357 180.4l.5 7.6 .5-7.8 .5 7.8 .5-10.1M362 178.1l.5 9.9 .5-10 .5 10 .5-3.2 .5 3.2 .5-3.3M366.5 188l.5-9.4 .5 9.4 .5-7.9 .5 7.9 .5-8 .5 8M372 178.6l.5 9.4M375 186.7l.5 1.3 .5-8.9 .5 8.9 .5-9 .5 9 .5-15.9 .5 15.9 .5-9.5 .5 9.5 .5-9.6M385.5 188l.5-1.1M388 174.3l.5 13.7 .5-13.8 .5 13.8 .5-14.2 .5 14.2 .5-14.3M398 171.9l.5 16.1 .5-16.2 .5 16.2 .5-8.6 .5 8.6 .5-8.5 .5 8.5M403.5 188l.5-13.6 .5 13.6 .5-13.6 .5 13.6M407.5 188l.5-17.9 .5 17.9 .5-17.9 .5 17.9 .5-16.3 .5 16.3M413 169.5l.5 18.5 .5-18.5M416 178.3l.5 9.7 .5-9.7 .5 9.7 .5-9.6 .5 9.6 .5-9.7 .5 9.7 .5-6.4M435.5 188l.5-10.3 .5 10.3 .5-11.3 .5 11.3 .5-11.3 .5 11.3 .5-8.9 .5 8.9 .5-16.7 .5 16.7 .5-12.8 .5 12.8 .5-12.8 .5 12.8 .5-12.9 .5 12.9 .5-16.7 .5 16.7M446.5 188l.5-12.5 .5 12.5 .5-12.5 .5 12.5M451 165.5l.5 22.5 .5-22.5M454 181l.5 7 .5-7.1 .5 7.1 .5-7.7 .5 7.7 .5-7.8 .5 7.8M462 176.2l.5 11.8 .5-11.9 .5 11.9 .5-10.5 .5 10.5 .5-10.4 .5 10.4 .5-10.4 .5 10.4 .5-10.5 .5 10.5 .5-11.6 .5 11.6 .5-11.7 .5 11.7 .5-21.2 .5 21.2 .5-21.2 .5 21.2 .5-8.9 .5 8.9 .5-8.9 .5 8.9 .5-9 .5 9 .5-15.3 .5 15.3 .5-15.4 .5 15.4 .5-19.2 .5 19.2 .5-12.1 .5 12.1 .5-12.1 .5 12.1 .5-11.2 .5 11.2 .5-11.4 .5 11.4 .5-14.9M489.5 188l.5-16.8 .5 16.8 .5-17 .5 17 .5-13.1 .5 13.1 .5-16.4 .5 16.4 .5-16.6 .5 16.6 .5-23.5M501 160.3l.5 27.7M503.5 188l.5-10.8 .5 10.8 .5-9.8 .5 9.8M507 167.9l.5 20.1 .5-19.1 .5 19.1 .5-15.3 .5 15.3 .5-14.3 .5 14.3 .5-14.6 .5 14.6 .5-15.8 .5 15.8 .5-17M514.5 188l.5-19.6 .5 19.6 .5-19.8 .5 19.8 .5-20.5 .5 20.5 .5-20.7 .5 20.7M523.5 188l.5-9.2 .5 9.2 .5-7.4" stroke="#77933C" stroke-width="2.2"/>
<path d="M314.5 188l.5-1.9M325 183.8l.5 4.2 .5-4.4 .5 4.4M329.5 188l.5-4.7 .5 4.7M335 179.8l.5 8.2 .5-8.3 .5 8.3M348 180.9l.5 7.1 .5-7.4 .5 7.4 .5-7.6M351.5 188l.5-5.3 .5 5.3 .5-2.8 .5 2.8 .5-3.1 .5 3.1M360 171.6l.5 16.4 .5-16.5 .5 16.5 .5-16.6 .5 16.6 .5-10.1 .5 10.1 .5-10.2 .5 10.2M368.5 188l.5-10M375 183.6l.5 4.4 .5-4.5 .5 4.5M379.5 188l.5-9.3 .5 9.3 .5-9.4M383 177.4l.5 10.6 .5-10.7 .5 10.7M387 176.9l.5 11.1 .5-11.2 .5 11.2 .5-11.3 .5 11.3 .5-15.4 .5 15.4 .5-15.4 .5 15.4 .5-18.8 .5 18.8 .5-8 .5 8M398.5 188l.5-14.7 .5 14.7 .5-14.8M402 173.3l.5 14.7 .5-14.6 .5 14.6M416.5 188l.5-8.2 .5 8.2M423.5 188l.5-16.4 .5 16.4 .5-16.4M428 171.3l.5 16.7 .5-16.7M432 181.3l.5 6.7 .5-6.7 .5 6.7 .5-4.2 .5 4.2M441 184.4l.5 3.6 .5-3.7M447 179.5l.5 8.5M449 182.1l.5 5.9 .5-6 .5 6 .5-6 .5 6 .5-5.7 .5 5.7 .5-5.7 .5 5.7M457 175.5l.5 12.5 .5-12.5M461.5 188l.5-8.1 .5 8.1 .5-18.5 .5 18.5 .5-18.6 .5 18.6 .5-18.6 .5 18.6 .5-8.2 .5 8.2 .5-6.4 .5 6.4 .5-16 .5 16 .5-16 .5 16 .5-14.8 .5 14.8 .5-14.9 .5 14.9 .5-14.9M474.5 188l.5-10.3 .5 10.3 .5-10.3 .5 10.3 .5-17.9 .5 17.9M481 169l.5 19 .5-19.2 .5 19.2 .5-19.4M486 172.3l.5 15.7 .5-15.9 .5 15.9M490 172.9l.5 15.1 .5-15.3 .5 15.3 .5-15.5 .5 15.5 .5-12.6 .5 12.6 .5-12.8M499 161l.5 27 .5-28 .5 28 .5-27M505 168.6l.5 19.4 .5-18.4 .5 18.4M508 178.2l.5 9.8 .5-8.8 .5 8.8M511.5 188l.5-10.9 .5 10.9 .5-20 .5 20 .5-21.2 .5 21.2 .5-15.1 .5 15.1 .5-15.3 .5 15.3 .5-15.5 .5 15.5 .5-13.4 .5 13.4M526 183.7l.5 4.3 .5-2.3M533.5 188l.5-1.4" stroke="#376092" stroke-width="2.2"/>
<path d="M319 187.1l.5 .9 .5-1.1 .5 1.1 .5-1.2M324 185.5l.5 2.5 .5-2.7 .5 2.7 .5-2.9M347 182.8l.5 5.2 .5-5.5 .5 5.5 .5-6.7 .5 6.7 .5-7 .5 7 .5-8.3 .5 8.3M362.5 188l.5-7.5 .5 7.5 .5-7.6M371.5 188l.5-10 .5 10M375 177.2l.5 10.8 .5-10.9M385 184.6l.5 3.4 .5-3.5 .5 3.5 .5-3.6M393.5 188l.5-8.5M397.5 188l.5-8.9 .5 8.9 .5-9 .5 9 .5-6.5 .5 6.5 .5-6.4 .5 6.4M411.5 188l.5-10.7 .5 10.7 .5-10.7M420.5 188l.5-7 .5 7 .5-7 .5 7M426.5 188l.5-15.5 .5 15.5 .5-15.5 .5 15.5 .5-10.3 .5 10.3M433.5 188l.5-8.3 .5 8.3 .5-10.8 .5 10.8 .5-10.8 .5 10.8 .5-10.8M445.5 188l.5-10.8 .5 10.8 .5-10.8 .5 10.8 .5-10.6 .5 10.6 .5-10.6 .5 10.6M452.5 188l.5-8 .5 8 .5-8M456.5 188l.5-13.7 .5 13.7 .5-13.8 .5 13.8M462 169.6l.5 18.4 .5-18.4 .5 18.4 .5-14.4M465.5 188l.5-12.7 .5 12.7 .5-12.8M470 177.1l.5 10.9 .5-11M472.5 188l.5-18 .5 18M479.5 188l.5-23.9M490.5 188l.5-13.7 .5 13.7 .5-13.9 .5 13.9M501 168.7l.5 19.3 .5-25 .5 25 .5-24M508.5 188l.5-12.1 .5 12.1 .5-11.1 .5 11.1 .5-15.8 .5 15.8M522 170.2l.5 17.8M524 181.2l.5 6.8 .5-5" stroke="#953735" stroke-width="2.2"/>
<path d="M289.6 183.3h1M251.6 183.6h1M374.1 186.5h1M452.4 187.5h1M315.3 184.8h1M364.8 185.4h1M440.3 185.8h1M349 183.6h1M536.4 187.3h1M298.7 185.7h1M395 184.4h1M283.5 185.3h1M483.4 186h1M404.5 186h1M350.6 185.9h1M233.9 183.2h1M312.8 187.8h1M524.7 183.3h1M310.7 183.9h1M305.7 183.3h1M332 186.5h1M508 184.8h1" stroke="#93CDDD" stroke-width="2.2"/>
<path d="M530.6 184.1h1M227.1 186h1M285.4 187.9h1M294.2 185.5h1M456.8 183.7h1M563.7 184.6h1M352.7 185.3h1M423.8 186.9h1M362.7 187.5h1M374.9 183.2h1M521.5 183.5h1M338.6 186.2h1M525.5 184.2h1M550.6 185.8h1M383 187.7h1M302.6 186.6h1M450.6 187h1M458 184.7h1M246.7 183.5h1M487.9 183.6h1M272.8 187.4h1M226 183.2h1" stroke="#FAC090" stroke-width="2.2"/>
<path d="M529.8 185.3h1M360.5 183.4h1M228.8 184h1M477.1 183.1h1M277.5 186.2h1M459 184.6h1M385.4 187.6h1M236.7 185.6h1M246.7 186.9h1M465.4 186.6h1M428.7 183.9h1M441.2 187.5h1M520 187.4h1M470.2 187h1M412 183.4h1M543.3 186.8h1M233.1 186.6h1M402 184.8h1M456 184.8h1M396.8 187.3h1M419.5 187.7h1" stroke="#C0504D" stroke-width="2.2"/>
<path d="M542 183.4h1M391.1 187.4h1M442.1 183.7h1M510.5 186.5h1M528.7 186.4h1M496.6 184.9h1M341.5 183.8h1M263 186.9h1M345.1 187.3h1M534.2 187.7h1M539.2 187.7h1M510 183.3h1M430 186.3h1M256.5 185.9h1M405.7 183.1h1M248.3 187.1h1M497.4 185.3h1M249.6 183.8h1M521.7 184h1M330.4 183.6h1M426.4 185.9h1" stroke="#95B3D7" stroke-width="2.2"/>
<path d="M515.4 187.9h1M253.6 186.2h1M311.4 185.5h1M492.3 183.8h1M546.2 184.4h1M229.4 185.6h1M250.7 184.7h1M413.6 183.3h1M232.2 185.9h1M349 186.2h1M466.8 187.4h1M281.4 183.2h1M300.5 185.5h1M541 187.1h1M268.7 185.5h1M503.2 187.2h1M308.6 185.4h1M560.5 185.1h1M542.3 184h1M313.4 187.7h1M516.3 185.9h1" stroke="#F79646" stroke-width="2.2"/>
<path d="M465.8 183.7h1M279.8 185.6h1M481.4 187.3h1M488.5 185.8h1M343.4 184.9h1M337.8 184.3h1M418.3 185.9h1M398.9 184.2h1M245.9 184.5h1M430.5 183.3h1M484.9 186.3h1M465.7 184.7h1M423.3 184.6h1M538.2 183.8h1M380.3 183.3h1M471.5 184.3h1M410.7 185.2h1M547.9 185.6h1M314.6 184.7h1M254.6 187.3h1M251.7 186.1h1" stroke="#376092" stroke-width="2.2"/>
<path d="M564.2 187h1M339.5 184.4h1M330.7 186.3h1M273.4 183.7h1M345 184.3h1M322.4 183h1M471.7 186.3h1M293.1 186.3h1M415.7 183.7h1M470.3 184.4h1M478.4 187.6h1M556.4 184.1h1M236.5 187.7h1M488.7 184.4h1M338.8 184.4h1M391.8 185.2h1M331.1 186.3h1M530.3 185.2h1M312.1 185.1h1M263.4 183.8h1M322.7 186.2h1" stroke="#D99694" stroke-width="2.2"/>
<path d="M294 187.9h1M226.2 185.9h1M229.9 187.5h1M516.2 185h1M493.9 184.4h1M472.6 185.7h1M250.6 184.9h1M360.8 187.6h1M460.1 185.6h1M367.7 186.1h1M296.4 186.6h1M550.1 186.8h1M498.4 184.8h1M522.4 186.9h1M320.3 185.2h1M233.9 185.7h1M527.8 184.3h1M562 185.4h1M497.4 183.4h1M486.8 186.2h1M564.3 186.1h1" stroke="#4BACC6" stroke-width="2.2"/>
<path d="M240.5 188l.5 0 .5 0 .5 0 .5 0 .5 0 .5 0 .5-7.9 .5 7.9 .5-15.7 .5 15.7 .5-12.6 .5 12.6 .5-8.3 .5 8.3 .5-2.9 .5 2.9 .5-6.5 .5 6.5 .5-4.2 .5 4.2 .5-2.9 .5 2.9 .5-3.1 .5 3.1 .5-4.7 .5 4.7 .5-.8 .5 .8 .5-4.1 .5 4.1 .5 0 .5 0 .5-1.4 .5 1.4 .5-3.3 .5 3.3 .5-3.3 .5 3.3 .5-5 .5 5 .5-3.9 .5 3.9 .5 0 .5 0 .5 0 .5 0 .5-.5 .5 .5 .5-1.5 .5 1.5 .5-.5 .5 .5 .5-1.4 .5 1.4 .5-3.7 .5 3.7 .5-3.4 .5 3.4 .5-2.1 .5 2.1 .5-4.2 .5 4.2 .5-5 .5 5 .5-3.7 .5 3.7 .5-.7 .5 .7 .5 0 .5 0 .5-4.3 .5 4.3 .5-1.6 .5 1.6 .5-.3 .5 .3 .5-5.1 .5 5.1 .5-1.3 .5 1.3 .5-.9 .5 .9 .5-4.6 .5 4.6 .5-2 .5 2 .5-2.2 .5 2.2 .5-3.9 .5 3.9 .5-3.8 .5 3.8 .5-3.5 .5 3.5 .5-.4 .5 .4 .5-2 .5 2 .5-2.1 .5 2.1 .5-3.6 .5 3.6 .5-3.8 .5 3.8 .5-3.9 .5 3.9 .5-4.5 .5 4.5 .5-1.5 .5 1.5 .5-.3 .5 .3 .5-3.6 .5 3.6 .5-2.8 .5 2.8 .5 0 .5 0 .5-5.1 .5 5.1 .5-4 .5 4 .5-.5 .5 .5 .5-1.9 .5 1.9 .5-4.9 .5 4.9 .5-6.7 .5 6.7 .5 0 .5 0 .5-5.4 .5 5.4 .5-7.1 .5 7.1 .5-3.5 .5 3.5 .5-6.8 .5 6.8 .5-7.2 .5 7.2 .5-6.9 .5 6.9 .5-2.6 .5 2.6 .5-7.3 .5 7.3 .5-4.4 .5 4.4 .5-6.8 .5 6.8 .5-4.1 .5 4.1 .5-5.4 .5 5.4 .5-8.4 .5 8.4 .5-7.4 .5 7.4 .5-6.5 .5 6.5 .5-8.7 .5 8.7 .5-8.7 .5 8.7 .5-7.5 .5 7.5 .5-7.9 .5 7.9 .5-9.4 .5 9.4 .5-9.7 .5 9.7 .5-9.7 .5 9.7 .5-8.8 .5 8.8 .5-6.5 .5 6.5 .5-5.5 .5 5.5 .5-5.4 .5 5.4 .5-6.6 .5 6.6 .5-9.6 .5 9.6" stroke="#4D3B62" stroke-width="2.4"/>
<path d="M293 186.4l1.1-2 1.2 2.1 1.1-4.2 1.2 2.1 1.1-4.1 1.2-.1 1.1 .7 1.2 2.1 1.1 0 1.2-4.6 1.1 2.8 1.2 4.1 1.1 2.7 1.2-6.5 1.1-3.4 1.2-.5 1.1 4.2 1.2-4.1 1.1-.5 1.2-6.5 1.1 6.7 1.2 5.2 1.1 1.8 1.2-2.7 1.1-1.4 1.2-.9 1.1-4.8 1.2-1.4 1.1 2.3 1.2 2 1.1 1.1 1.2-1.1 1.1-5.1 1.2-3.7 1.1-1.1 1.2 11.1 1.1-1.3 1.2-.7 1.1-4.7 1.2 .5 1.1-3.9 1.2-1.1 1.1-1.9 1.2 8.6 1.1 7 1.2-2.6 1.1-7.5 1.2-10.2 1.1 1.4 1.2 .7 1.1 2.7 1.2 5.3 1.1-2 1.2-5.1 1.1-9.2 1.2 7.4 1.1 8.7 1.2 .9 1.1-8.6 1.2-3.7 1.1 8.2 1.2 8.2 1.1 .2 1.2-1.2 1.1-2.2 1.2-2.3 1.1 3.8 1.2-1 1.1-1.8 1.2-7.3 1.1-4.8 1.2 3.5 1.1 4.8 1.2 .9 1.1 3.5 1.2 3.1 1.1 5.1 1.2-7.1 1.1-9.2 1.2-2.2 1.1-.4 1.2-1.2 1.1 .2 1.2 3.4 1.1 5.8 1.2-2.9 1.1 6.4 1.2 1.4 1.1 6.5 1.2-7.9 1.1 2.1 1.2-3.8 1.1 7.7 1.2-2 1.1-1.7 1.2-7 1.1 2.5 1.2 6 1.1 1 1.2-5.1 1.1-2.5 1.2-1.9 1.1-1.2 1.2-2.6 1.1 1.2 1.2 2.1 1.1-.9 1.2 3.7 1.1-1.1 1.2 5.4 1.1 .6 1.2 3.6 1.1-.4 1.2-.5 1.1-4.4 1.2-.1 1.1-4.9 1.2-.2 1.1 .6 1.2 2.7 1.1 2.3 1.2-5.6 1.1 4.5 1.2-3.2 1.1 4.6 1.2-4.3 1.1 4.8 1.2-2.4 1.1-3 1.2-8.8 1.1 .2 1.2-.6 1.1 7.6 1.2 5.4 1.1-3.2 1.2-5.7 1.1-3.5 1.2 10.8 1.1 5 1.2 0 1.1-2.3 1.2 .9 1.1 4.1 1.2 .3 1.1-5.6 1.2-6.6 1.1-1.3 1.2 1.3 1.1 .7 1.2-2.3 1.1 .3 1.2 3 1.1 .4 1.2-1.2 1.1-4.4 1.2 1.4 1.1 10 1.2 3 1.1 4.5 1.2-5 1.1-7.6 1.2-3.4 1.1-4.2 1.2 2.6 1.1-4.4 1.2 8.4 1.1-.6 1.2 1.5 1.1-1.8 1.2 7.1 1.1-3.3 1.2-3.9 1.1-3.5 1.2 4.8 1.1 2.8 1.2-.1 1.1-.2 1.2 2.3 1.1-3.9 1.2 0 1.1-2.9 1.2 2 1.1-.6 1.2-5.4 1.1 4.5 1.2 .2 1.1 6.8 1.2 2.8 1.1 2.3 1.2-3.5 1.1-2.2 1.2 .2 1.1-2.4 1.2 2.7 1.1 .7 1.2 6.4 1.1-7.4 1.2 2.4 1.1 4.7 1.2 6.2 1.1-6.6 1.2-5.4 1.1-1.2 1.2 4.9 1.1-.2 1.2 1.7 1.1-.9 1.2 1.4 1.1-1.7 1.2 1.6 1.1 1.6 1.2 .7 1.1 1.1 1.2-1.9 1.1 .6 1.2-.3 1.1 2.3 1.2 .2 1.1 1.6 1.2-2 1.1 .7 1.2-.1" stroke="#77933C" stroke-width="3.4"/>
<path d="M299.9 185.8l1.1-1.8 1.2 .8 1.1 .6 1.2-1.1 1.1-.4 1.2-1.5 1.1-.6 1.2-1.5 1.1-.6 1.2 1.5 1.1 2.4 1.2 1.6 1.1-3.1 1.2-.8 1.1 1.2 1.2-1.8 1.1-2 1.2 .4 1.1 4.8 1.2 .7 1.1-8.9 1.2 1.2 1.1 9.1 1.2-3.7 1.1 1.8 1.2 1.9 1.1-5.7 1.2-1.4 1.1-3.2 1.2-1.9 1.1-2.3 1.2-2.6 1.1 5.3 1.2 2.3 1.1-2.3 1.2 3.9 1.1-2.9 1.2-.8 1.1 1.3 1.2-1.5 1.1 .2 1.2 1.4 1.1-3 1.2-3.8 1.1 .4 1.2 3.7 1.1 5.9 1.2 3.5 1.1-3 1.2-1.5 1.1-.6 1.2 .3 1.1-.1 1.2-1.9 1.1-1.1 1.2-1.1 1.1 5.9 1.2-3.2 1.1-5.1 1.2 1.6 1.1 2.6 1.2 6.5 1.1-3.4 1.2-12.4 1.1 2.5 1.2 9.1 1.1-6.2 1.2-2.3 1.1 4.4 1.2-5.7 1.1 2.1 1.2 7.4 1.1-1.2 1.2-4 1.1-2.6 1.2 1.1 1.1 3.3 1.2-1 1.1 2.7 1.2 3.7 1.1-9.9 1.2 3.5 1.1 6.4 1.2-6.1 1.1-.1 1.2-3.5 1.1 .2 1.2-1.6 1.1-3.3 1.2 10.4 1.1 6.3 1.2-4.5 1.1-6.1 1.2 3.6 1.1 2.5 1.2-1.9 1.1 1.9 1.2-3.4 1.1 .5 1.2-2.8 1.1 1.9 1.2 1.5 1.1-5.6 1.2 2.5 1.1 3.7 1.2 3.9 1.1-.9 1.2-.5 1.1 .4 1.2-1.7 1.1-6.4 1.2-6.1 1.1-1 1.2 6.3 1.1 5.7 1.2-.2 1.1 1.3 1.2-.2 1.1-3.3 1.2-3.4 1.1-2.4 1.2 7.4 1.1 7.7 1.2-7 1.1-3.3 1.2 5 1.1 5.1 1.2-2.9 1.1-3.9 1.2 4.8 1.1-5.2 1.2-5.2 1.1 4.7 1.2 0 1.1 5.9 1.2 4.3 1.1-5.2 1.2-5 1.1 1.8 1.2 4.4 1.1-3.8 1.2-2.9 1.1-2.6 1.2 .9 1.1 6.4 1.2 3 1.1-.8 1.2-.5 1.1-3.2 1.2-3.5 1.1 4.9 1.2 2.5 1.1-5.5 1.2 .2 1.1 4.4 1.2 .6 1.1-2 1.2-3.2 1.1 .9 1.2 6 1.1-.6 1.2-6.1 1.1 .6 1.2-1.3 1.1-.1 1.2 2.4 1.1 1.9 1.2 1.1 1.1 .3 1.2 5.3 1.1-2.9 1.2-7.3 1.1 1.7 1.2 1.9 1.1-.6 1.2-1 1.1 1.1 1.2 1.6 1.1-5.5 1.2-.4 1.1 5.3 1.2 2.9 1.1-1.6 1.2-3.6 1.1 3.4 1.2 .5 1.1-1.7 1.2 2.1 1.1 1.2 1.2-.6 1.1-2.9 1.2 2 1.1 1.5 1.2-1.5 1.1 3.5 1.2 1.8 1.1-2.6 1.2-.6 1.1 1.3 1.2 .3 1.1-.6" stroke="#4F6228" stroke-width="2.8"/>
<path d="M243.5 185.6l1.2-5.2 1.1-.5 1.2 3.6 1.1-.9 1.2-4.2 1.1 7.8 1.2-1.2 1.1-.2 1.2 2.4 1.1-.7 2.3-1.5 1.2 0 1.1 .8 1.2-.4 1.1-1.2 1.2-.1 1.1 .8 3.5-.7 1.1 .5 1.2 1.1 1.1 .2 1.2-.6 1.1-1.1 1.2-.1 1.1 .8 1.2-.4 1.1-.6 1.2-.1 1.1-.6 1.2 .6 1.1-.3 1.2 1.1 1.1-.1 1.2-.2 1.1 .4 1.2 1 1.1 1.8 1.2-1.7 1.1-1.2 1.2-.4 1.1 0 1.2 .9 1.1 1.8 1.2-1.5 1.1-1.3 1.2 .4 1.1-1 1.2 1.3 1.1 .1 1.2-.6 1.1-1 1.2-.7 1.1 .3 1.2 1.3 1.1-2.2 1.2-2.4 1.1 0 1.2-.9 1.1 .4 1.2 2.9 1.1 4.3 1.2 .4 1.1-5.4 1.2-2.3 1.1-.2 1.2 .4 1.1 4.1 1.2 .2 1.1-.9 1.2-1.5 1.1-5.7 1.2-4 1.1 3.5 1.2 5.1 1.1 2.7 1.2-2.1 1.1-2.8 1.2 1.2 1.1 2.1 1.2-.9 1.1-5.3 1.2 2.6 1.1 3.5 1.2-1.9 1.1-4.4 1.2-1.4 1.1-1.6 1.2-6 1.1 3.7 1.2 4.1 1.1 2 1.2 5 1.1-2 1.2 .7 1.1-1.9 1.2-3.2 1.1-2.2 1.2-2.1 1.1 2.5 1.2-1.1 1.1 2.5 1.2-4.9 1.1-1.4 1.2 2.9 1.1-.1 1.2 3.3 1.1-1.5 1.2-2.3 1.1-2.3 1.2 2.4 1.1 1.3 1.2-.4 1.1-2.3 1.2 2.5 1.1 1.1 1.2-.8 1.1 1.5 1.2-1.8 1.1 .8 1.2 .2 1.1 .3 1.2 1.6 1.1 1.7 1.2-1.7 1.1 2.7 1.2-4 1.1-1.2 1.2 2.1 1.1-8 1.2 1 1.1 3.5 1.2 3.3 1.1-.9 1.2-4.6 1.1 2.1 1.2-5.4 1.1 .8 1.2 2.6 1.1 2.6 1.2 7.6 1.1-4 1.2-9.1 1.1 .6 1.2 5 1.1 1.6 1.2-1.3 1.1-5.3 1.2 .5 1.1 .8 1.2 5.5 1.1 .6 1.2-6.8 1.1 1.8 1.2-1.6 1.1-1.2 1.2 3.2 1.1-.2 1.2-.3 1.1 4.9 1.2 1.9 1.1-7.2 1.2-2.5 1.1 5.9 1.2-.6 1.1-1.9 1.2 1.7 1.1 1.3 1.2-.4 1.1-2 1.2-1.9 1.1 1.3 1.2-.2 1.1 3.8 1.2 2.5 1.1-5.6 1.2 2.2 1.1 .4 1.2-2.1 1.1 .1 1.2-2.4 1.1-2.5 1.2 0 1.1 5.7 1.2 .2 1.1-4.4 1.2 .5 1.1 3 1.2 6.8 1.1-4.6 1.2-4.1 1.1 2.8 1.2-2.4 1.1 1 1.2-2.8 1.1 .9 1.2 4.1 1.1-5.2 1.2 3.8 1.1 5.2 1.2-1.3 1.1-6.5 1.2-4.1 1.1 2.5 1.2 2.3 1.1 5 1.2-7.3 1.1-4 1.2 4.8 1.1 2.5 1.2 0 1.1-6.6 1.2-.7 1.1 .5 1.2-1.9 1.1 2.8 1.2 .3 1.1-.5 1.2-4 1.1 4.6 1.2 6.6 1.1-3.4 1.2-6.1 1.1-6.9 1.2 2.4 1.1 6.5 1.2 9.9 1.1 5.4 1.2-6.6 1.1 .3 1.2 3.5 1.1-4.7 1.2-1.4 1.1-.5 1.2-5.6 1.1-4.5 1.2 1.3 1.1 5.9 1.2-2.4 1.1-5.3 1.2 7.4 1.1-1 1.2 5.7 1.1 8.7 1.2-.9 1.1 6.8 1.2-2.3 1.1-3 1.2 5.1 1.1 1.2 1.2-1.7 1.1 1 1.2 1.4 1.1 1.3" stroke="#376092" stroke-width="2.6"/>
<path d="M244.7 177.2l1.1-9 1.2 13.7 1.1 5.1 1.2-2.2 2.3 1.6 1.1-1.3 1.2-.6 6.9 .5 16.1-1.5 1.1 .6 1.2 .4 1.1 .4 1.2 .6 16.1 2.5 1.1 0 1.2 0 1.1-.1 1.2-.9 1.1-1.5 1.2 .2 1.1-1.7 1.2 .7 1.1-.3 1.2-.2 1.1 1 1.2-1.6 1.1 2.2 1.2-2.4 1.1 1.2 1.2-1.9 1.1 3 1.2 .7 1.1 1.6 1.2-.8 1.1-.4 1.2-2.2 1.1-1.4 1.2-.3 1.1-.1 1.2 0 1.1-3.1 1.2-1 1.1 1 1.2 1.2 1.1 .9 1.2-1.4 1.1-1.2 1.2-2.4 1.1-1.4 1.2 1.1 1.1 1 1.2 3.3 1.1-1.7 1.2-3.8 1.1-1.2 1.2 1 1.1 3.8 1.2 3.9 1.1 4.3 1.2 .9 1.1-3.1 1.2-3.6 1.1 .8 1.2-4.3 1.1-2.6 1.2-4.2 1.1 5.7 1.2 6 1.1-.6 1.2-1.2 1.1-4.9 1.2 4.6 1.1-4.2 1.2 2.9 1.1-3.4 1.2 0 1.1-2.8 1.2 .6 1.1-.9 1.2-3.8 1.1 4.1 1.2 .4 1.1-1.4 1.2-11 1.1-6.8 1.2 3.2 1.1 9.9 1.2 3.2 1.1 .7 1.2-9 1.1 7.5 1.2 1.7 1.1 5.9 1.2 .6 1.1 3.4 1.2 1.9 1.1-5.5 1.2-8.3 1.1-5.9 1.2-3.4 1.1 8.6 1.2 2.3 1.1 5.1 1.2-4.5 1.1 6.2 1.2-1.8 1.1 2.8 1.2-4.7 1.1 1.2 1.2-8.6 1.1 1.8 1.2-1.6 1.1 4.1 1.2-1.9 1.1 2.4 1.2 4.5 1.1-2.4 1.2 .2 1.1-2.3 1.2 2 1.1 1.5 1.2-1.5 1.1 3.3 1.2-3.9 1.1-3.3 1.2-3.4 1.1 5.2 1.2 2.6 1.1-1.7 1.2-4.2 1.1 1.9 1.2 1.3 1.1 1.8 1.2-5.3 1.1 4.7 1.2 .8 1.1 2.3 1.2-.3 1.1-.4 1.2 6.4 1.1-7.2 1.2 3.3 1.1-4 1.2-2.5 1.1-2.6 1.2-1 1.1 2.9 1.2-2.8 1.1-4.6 1.2 4.4 1.1-.1 1.2 4.6 1.1 2.3 1.2 .6 1.1-1.1 1.2-6.7 1.1-.3 1.2 4.7 1.1 1 1.2-2.8 1.1-.4 1.2 1.7 1.1 2.8 1.2 3.1 1.1-3.6 1.2 .6 1.1-10.8 1.2 2.5 1.1 1 1.2 8 1.1-2.7 1.2 .6 1.1-1.1 1.2 3 1.1 4.3 1.2-2.4 1.1-2.4 1.2-5.9 1.1-5.4 1.2 6.6 1.1 1.3 1.2 3.9 1.1-2.9 1.2-1.5 1.1 6.3 1.2-4 1.1-6.2 1.2-12.2 1.1-.2 1.2-1.9 1.1 6.2 1.2 3.1 1.1 4.3 1.2-1 1.1 3.3 1.2 1.8 1.1 4.4 1.2 .5 1.1-2.6 1.2-4.5 1.1 2.9 1.2 1.8 1.1-1.7 1.2-8 1.1-1.4 1.2-.8 1.1-.6 1.2 2.6 1.1 5.4 1.2 4.7 1.1-2.6 1.2-2 1.1 3.4 1.2 6.2 1.1 7 1.2 .9 1.1-.2 1.2 .1 1.1-.4 1.2 1.8" stroke="#4D3B62" stroke-width="3.6"/>
<path d="M244.7 186.7l1.1-3.5 90.9 3.1 1.1-1.2 1.2-.4 1.1-.3 1.2 1 1.1 .9 1.2-1.9 1.1-.2 1.2-.4 1.1-3.4 1.2 1.8 1.1 4.2 1.2-3.1 1.1-2.6 1.2 1.7 1.1 .1 1.2-1.9 1.1-.6 1.2 .6 1.1-.4 1.2 .4 1.1 .4 1.2-1.9 1.1 .3 1.2-1.8 1.1 2.6 1.2-.3 1.1-3.1 1.2 3.9 1.1 .9 1.2-.2 1.1 1.7 1.2-3 1.1-3 1.2 2.6 1.1-1 1.2-1.8 1.1 3.9 1.2-.4 1.1-4.2 1.2 .9 1.1 .5 1.2 .9 1.1-.1 1.2 .4 1.1 .8 1.2 .1 1.1 3.1 1.2-3.5 1.1 .6 1.2 1 1.1-2.7 1.2 1.5 1.1-2.7 1.2-5.9 1.1 5.1 1.2 3.3 1.1-6.5 1.2 5.1 1.1 2.3 1.2 2.4 1.1 4.3 1.2-3.2 1.1-3.8 1.2 .2 1.1-4.1 1.2-1.4 1.1 3.8 1.2-1.6 1.1 .4 1.2-2.5 1.1 1.7 1.2 7 1.1-5.5 1.2-2.9 1.1 7.2 1.2 .7 1.1-6.5 1.2-3.6 1.1 4.8 1.2 7.1 1.1-4.9 1.2-4.5 1.1 .8 1.2-.9 1.1 2.8 1.2 .6 1.1-2.5 1.2 5.4 1.1 1.3 1.2-5.8 1.1 3.2 1.2 .4 1.1-3.4 1.2 2.4 1.1-2.2 1.2-.6 1.1 5.3 1.2-.2 1.1-3.2 1.2-1.9 1.1-4.1 1.2-.4 1.1 5.3 1.2 2.6 1.1-.4 1.2-3.5 1.1-2.8 1.2 .9 1.1 2.7 1.2 3.4 1.1-.4 1.2-4.8 1.1-.4 1.2-.1 1.1-.4 1.2-5 1.1-4 1.2 2.8 1.1 5.9 1.2 3.2 1.1-1 1.2 3.6 1.1-3.5 1.2-.2 1.1 4.2 1.2-5.8 1.1 3.1 1.2-2.4 1.1-8 1.2 3.4 1.1 4.3 1.2-.1 1.1-7.9 1.2-.5 1.1 5.9 1.2 8.3 1.1 4.1 1.2-7.8 1.1-8.5 1.2-.5 1.1-1.4 1.2-1.5 1.1 5.6 1.2-.6 1.1 .7 1.2 1.4 1.1-1.3 1.2 6.7 1.1 4.6 1.2-4.4 1.1-3 1.2-.4 1.1 2.6 1.2 .6 1.1 1.4 1.2-1.5 1.1-8 1.2 4.4 1.1 6.6 1.2-2.5 1.1 2.6 1.2-4.8 1.1-2 1.2 4.9 1.1 4.8 1.2 1.4" stroke="#604A7B" stroke-width="3.0"/>
<path d="M558 182.5H566M558 185H566M558 187H566" stroke="#D7E4BD" stroke-width="2.6"/>
<path d="M53 188.2l1-.8 1-.7 1-.4 1 0 1 0 1 0 1 0 1 0 1 0 1 0 1 0 1 0 1 0 1 0 1 0 1 0 1 0 1 0 1 0 1 0 1 0 1 0 1 0 1 0 1 .4 1 .7 1 .8" stroke="#943634" stroke-width="2.0"/>
<path d="M54.5 186.8l.8-.4 .8 0 .8 .2 .8 .3 .8-.6 .8 .4 .8 .1 .8 .2 .8-.7 .8 .2 .8 .5 .8-.1 .8-.5 .8 .6 .8-.5 .8 .1 .8 .1 .8-.2 .8 .3 .8-.2 .8-.2 .8 .2 .8 .1 .8-.1 .8 .3 .8-.1 .8-.3 .8 .1 .8 .4" stroke="#953735" stroke-width="1.6"/>
<path d="M75 185.5h.6M64.5 185.5h.6M60.7 185.5h.6M58.4 185.5h.6" stroke="#93CDDD" stroke-width="1.8"/>
<path d="M76.3 185.5h.6M71.8 185.5h.6M62.1 185.5h.6M59.4 185.5h.6" stroke="#F79646" stroke-width="1.8"/>
<path d="M74.6 185.5h.6M58.4 185.5h.6M67 185.5h.6M70.4 185.5h.6" stroke="#77933C" stroke-width="1.8"/>
<path d="M76.6 185.5h.6M70.8 185.5h.6M57.5 185.5h.6M67 185.5h.6" stroke="#C0504D" stroke-width="1.8"/>
<path d="M76 185.5h.6M61.2 185.5h.6M57 185.5h.6M56.3 185.5h.6" stroke="#F79646" stroke-width="1.8"/>
<path d="M74.2 185.5h.6M76.5 185.5h.6M65.6 185.5h.6M62 185.5h.6" stroke="#93CDDD" stroke-width="1.8"/>
<path d="M88 188.2l1-.7 1-.7 1-.3 1 0 1 0 1 0 1 0 1 .3 1 .7 1 .7" stroke="#943634" stroke-width="2.0"/>
<path d="M89.5 186.9l.8 .2 .8-.2 .8 0 .8-.1 .8 .3 .8-.6 .8 .3 .8 0" stroke="#C0504D" stroke-width="1.6"/>
<path d="M95 185.7h.6M90.3 185.7h.6M93.5 185.7h.6M92.2 185.7h.6" stroke="#D99694" stroke-width="1.8"/>
<path d="M93.8 185.7h.6M95.6 185.7h.6M90.4 185.7h.6M91 185.7h.6" stroke="#FAC090" stroke-width="1.8"/>
<path d="M149 188.2l1-.3 1-.3 1-.2 1 0 1 0 1 0 1 0 1 0 1 0 1 0 1 0 1 0 1 0 1 0 1 0 1 .2 1 .3 1 .3" stroke="#943634" stroke-width="2.0"/>
<path d="M155.9 186.6h.6M158.5 186.6h.6M162.6 186.6h.6M161.3 186.6h.6" stroke="#C0504D" stroke-width="1.8"/>
<path d="M158.7 186.6h.6M153.7 186.6h.6M158 186.6h.6M157.2 186.6h.6" stroke="#FAC090" stroke-width="1.8"/>
<path d="M129 188.2l1-.4 1 .4" stroke="#943634" stroke-width="2.0"/>
<path d="M129.7 186.4h.6M130.3 186.4h.6M130.2 186.4h.6M130.1 186.4h.6" stroke="#F79646" stroke-width="1.8"/>
<path d="M574 188.2l1-.2 1-.3 1-.1 1 0 1 0 1 0 1 0 1 0 1 0 1 0 1 .1 1 .3 1 .2" stroke="#943634" stroke-width="2.0"/>
<path d="M578.2 186.8h.6M581.2 186.8h.6M578.9 186.8h.6M581.8 186.8h.6" stroke="#C0504D" stroke-width="1.8"/>
<path d="M647 188.2l1-.2 1-.3 1-.1 1 0 1 0 1 0 1 0 1 .1 1 .3 1 .2" stroke="#943634" stroke-width="2.0"/>
<path d="M649.2 186.8h.6M652.6 186.8h.6M652.4 186.8h.6M654.6 186.8h.6" stroke="#C0504D" stroke-width="1.8"/>
<line x1="220.0" x2="567.0" y1="189" y2="189" stroke="#772C2A" stroke-width="2"/>
<path d="M48 189.4H220.0M567.0 189.4H681" stroke="#403152" stroke-width="1.4" stroke-linecap="butt"/>
</g>
<g font-size="6" fill="#262626" stroke="#262626" stroke-width="0.35" text-anchor="end">
<text transform="translate(47.90 195) rotate(-90)" dy="2.1">11:23:30 AM</text>
<text transform="translate(56.46 195) rotate(-90)" dy="2.1">11:25:20 AM</text>
<text transform="translate(65.02 195) rotate(-90)" dy="2.1">11:27:07 AM</text>
<text transform="translate(73.58 195) rotate(-90)" dy="2.1">11:28:58 AM</text>
<text transform="translate(82.14 195) rotate(-90)" dy="2.1">11:30:47 AM</text>
<text transform="translate(90.70 195) rotate(-90)" dy="2.1">11:32:37 AM</text>
<text transform="translate(99.26 195) rotate(-90)" dy="2.1">11:34:27 AM</text>
<text transform="translate(107.82 195) rotate(-90)" dy="2.1">11:36:17 AM</text>
<text transform="translate(116.38 195) rotate(-90)" dy="2.1">11:38:07 AM</text>
<text transform="translate(124.94 195) rotate(-90)" dy="2.1">11:39:57 AM</text>
<text transform="translate(133.50 195) rotate(-90)" dy="2.1">11:41:47 AM</text>
<text transform="translate(142.06 195) rotate(-90)" dy="2.1">11:43:37 AM</text>
<text transform="translate(150.62 195) rotate(-90)" dy="2.1">11:45:27 AM</text>
<text transform="translate(159.18 195) rotate(-90)" dy="2.1">11:47:17 AM</text>
<text transform="translate(167.74 195) rotate(-90)" dy="2.1">11:49:07 AM</text>
<text transform="translate(176.30 195) rotate(-90)" dy="2.1">11:50:57 AM</text>
<text transform="translate(184.86 195) rotate(-90)" dy="2.1">11:52:47 AM</text>
<text transform="translate(193.42 195) rotate(-90)" dy="2.1">11:54:37 AM</text>
<text transform="translate(201.98 195) rotate(-90)" dy="2.1">11:56:27 AM</text>
<text transform="translate(210.54 195) rotate(-90)" dy="2.1">11:58:17 AM</text>
<text transform="translate(219.10 195) rotate(-90)" dy="2.1">12:00:07 PM</text>
<text transform="translate(227.66 195) rotate(-90)" dy="2.1">12:01:57 PM</text>
<text transform="translate(236.22 195) rotate(-90)" dy="2.1">12:03:47 PM</text>
<text transform="translate(244.78 195) rotate(-90)" dy="2.1">12:05:37 PM</text>
<text transform="translate(253.34 195) rotate(-90)" dy="2.1">12:07:27 PM</text>
<text transform="translate(261.90 195) rotate(-90)" dy="2.1">12:09:17 PM</text>
<text transform="translate(270.46 195) rotate(-90)" dy="2.1">12:11:07 PM</text>
<text transform="translate(279.02 195) rotate(-90)" dy="2.1">12:12:57 PM</text>
<text transform="translate(287.58 195) rotate(-90)" dy="2.1">12:14:47 PM</text>
<text transform="translate(296.14 195) rotate(-90)" dy="2.1">12:16:37 PM</text>
<text transform="translate(304.70 195) rotate(-90)" dy="2.1">12:18:27 PM</text>
<text transform="translate(313.26 195) rotate(-90)" dy="2.1">12:20:17 PM</text>
<text transform="translate(321.82 195) rotate(-90)" dy="2.1">12:22:07 PM</text>
<text transform="translate(330.38 195) rotate(-90)" dy="2.1">12:23:57 PM</text>
<text transform="translate(338.94 195) rotate(-90)" dy="2.1">12:25:47 PM</text>
<text transform="translate(347.50 195) rotate(-90)" dy="2.1">12:27:37 PM</text>
<text transform="translate(356.06 195) rotate(-90)" dy="2.1">12:29:27 PM</text>
<text transform="translate(364.62 195) rotate(-90)" dy="2.1">12:31:18 PM</text>
<text transform="translate(373.18 195) rotate(-90)" dy="2.1">12:33:08 PM</text>
<text transform="translate(381.74 195) rotate(-90)" dy="2.1">12:34:58 PM</text>
<text transform="translate(390.30 195) rotate(-90)" dy="2.1">12:36:48 PM</text>
<text transform="translate(398.86 195) rotate(-90)" dy="2.1">12:38:38 PM</text>
<text transform="translate(407.42 195) rotate(-90)" dy="2.1">12:40:28 PM</text>
<text transform="translate(415.98 195) rotate(-90)" dy="2.1">12:42:18 PM</text>
<text transform="translate(424.54 195) rotate(-90)" dy="2.1">12:44:08 PM</text>
<text transform="translate(433.10 195) rotate(-90)" dy="2.1">12:45:58 PM</text>
<text transform="translate(441.66 195) rotate(-90)" dy="2.1">12:47:48 PM</text>
<text transform="translate(450.22 195) rotate(-90)" dy="2.1">12:49:38 PM</text>
<text transform="translate(458.78 195) rotate(-90)" dy="2.1">12:51:28 PM</text>
<text transform="translate(467.34 195) rotate(-90)" dy="2.1">12:53:18 PM</text>
<text transform="translate(475.90 195) rotate(-90)" dy="2.1">12:55:08 PM</text>
<text transform="translate(484.46 195) rotate(-90)" dy="2.1">12:56:58 PM</text>
<text transform="translate(493.02 195) rotate(-90)" dy="2.1">12:58:48 PM</text>
<text transform="translate(501.58 195) rotate(-90)" dy="2.1">1:00:38 PM</text>
<text transform="translate(510.14 195) rotate(-90)" dy="2.1">1:02:28 PM</text>
<text transform="translate(518.70 195) rotate(-90)" dy="2.1">1:04:18 PM</text>
<text transform="translate(527.26 195) rotate(-90)" dy="2.1">1:06:08 PM</text>
<text transform="translate(535.82 195) rotate(-90)" dy="2.1">1:07:58 PM</text>
<text transform="translate(544.38 195) rotate(-90)" dy="2.1">1:09:48 PM</text>
<text transform="translate(552.94 195) rotate(-90)" dy="2.1">1:11:38 PM</text>
<text transform="translate(561.50 195) rotate(-90)" dy="2.1">1:13:28 PM</text>
<text transform="translate(570.06 195) rotate(-90)" dy="2.1">1:15:18 PM</text>
<text transform="translate(578.62 195) rotate(-90)" dy="2.1">1:17:08 PM</text>
<text transform="translate(587.18 195) rotate(-90)" dy="2.1">1:18:58 PM</text>
<text transform="translate(595.74 195) rotate(-90)" dy="2.1">1:20:48 PM</text>
<text transform="translate(604.30 195) rotate(-90)" dy="2.1">1:22:38 PM</text>
<text transform="translate(612.86 195) rotate(-90)" dy="2.1">1:24:28 PM</text>
<text transform="translate(621.42 195) rotate(-90)" dy="2.1">1:26:18 PM</text>
<text transform="translate(629.98 195) rotate(-90)" dy="2.1">1:28:08 PM</text>
<text transform="translate(638.54 195) rotate(-90)" dy="2.1">1:29:58 PM</text>
<text transform="translate(647.10 195) rotate(-90)" dy="2.1">1:31:48 PM</text>
<text transform="translate(655.66 195) rotate(-90)" dy="2.1">1:33:38 PM</text>
<text transform="translate(664.22 195) rotate(-90)" dy="2.1">1:35:28 PM</text>
<text transform="translate(672.78 195) rotate(-90)" dy="2.1">1:37:18 PM</text>
</g>
<text x="292.8" y="242.8" font-size="7.8" fill="#000" textLength="104.7" lengthAdjust="spacingAndGlyphs">Time (End User Experience Test)</text>
<text transform="translate(14.2 236) rotate(-90)" font-size="6.6" font-weight="bold" fill="#000" textLength="69.3" lengthAdjust="spacingAndGlyphs">Percentage [%] Usage</text>
<g font-size="6.6" fill="#595959" stroke-linecap="round">
<line x1="65.5" x2="92.7" y1="235.90" y2="235.90" stroke="#4F81BD" stroke-width="1.8"/>
<text x="94.5" y="238.35" textLength="204.0" lengthAdjust="spacingAndGlyphs">\\VDI-01\Network Port(vSwitch0:221 45 925 19:vmnic0)\MBits Received/sec</text>
<line x1="65.5" x2="92.7" y1="243.02" y2="243.02" stroke="#9BBB59" stroke-width="1.8"/>
<text x="94.5" y="245.47" textLength="204.0" lengthAdjust="spacingAndGlyphs">\\VDI-01\Network Port(vSwitch0:221 45 925 22:vmnic2)\MBits Received/sec</text>
<line x1="65.5" x2="92.7" y1="250.14" y2="250.14" stroke="#4BACC6" stroke-width="1.8"/>
<text x="94.5" y="252.59" textLength="211.0" lengthAdjust="spacingAndGlyphs">\\VDI-01\Network Port(vSwitch0:221 45 925 19:vmnic0)\MBits Transmitted/sec</text>
<line x1="65.5" x2="92.7" y1="257.26" y2="257.26" stroke="#254061" stroke-width="1.8"/>
<text x="94.5" y="259.71" textLength="211.0" lengthAdjust="spacingAndGlyphs">\\VDI-01\Network Port(vSwitch0:221 45 925 22:vmnic2)\MBits Transmitted/sec</text>
<line x1="65.5" x2="92.7" y1="264.38" y2="264.38" stroke="#4F6228" stroke-width="1.8"/>
<text x="94.5" y="266.83" textLength="207.0" lengthAdjust="spacingAndGlyphs">\\Host-02\Network Port(vSwitch0::221 45 925 19:vmnic0)\MBits  Received/sec</text>
<line x1="65.5" x2="92.7" y1="271.50" y2="271.50" stroke="#215968" stroke-width="1.8"/>
<text x="94.5" y="273.95" textLength="207.0" lengthAdjust="spacingAndGlyphs">\\Host-02\Network Port(vSwitch0::221 45 925 22:vmnic5)\MBits  Received/sec</text>
<line x1="65.5" x2="92.7" y1="278.62" y2="278.62" stroke="#95B3D7" stroke-width="1.8"/>
<text x="94.5" y="281.07" textLength="215.0" lengthAdjust="spacingAndGlyphs">\\Host-02\Network Port(vSwitch0::221 45 925 19:vmnic0)\MBits  Transmitted/sec</text>
<line x1="65.5" x2="92.7" y1="285.74" y2="285.74" stroke="#C3D69B" stroke-width="1.8"/>
<text x="94.5" y="288.19" textLength="215.0" lengthAdjust="spacingAndGlyphs">\\Host-02\Network Port(vSwitch0::221 45 925 22:vmnic5)\MBits  Transmitted/sec</text>
<line x1="65.5" x2="92.7" y1="292.86" y2="292.86" stroke="#93CDDD" stroke-width="1.8"/>
<text x="94.5" y="295.31" textLength="207.0" lengthAdjust="spacingAndGlyphs">\\Host-03\Network Port(vSwitch0::221 45 925 19:vmnic0)\MBits  Received/sec</text>
<line x1="65.5" x2="92.7" y1="299.98" y2="299.98" stroke="#376092" stroke-width="1.8"/>
<text x="94.5" y="302.43" textLength="207.0" lengthAdjust="spacingAndGlyphs">\\Host-03\Network Port(vSwitch0::221 45 925 23:vmnic5)\MBits  Received/sec</text>
<line x1="65.5" x2="92.7" y1="307.10" y2="307.10" stroke="#77933C" stroke-width="1.8"/>
<text x="94.5" y="309.55" textLength="215.0" lengthAdjust="spacingAndGlyphs">\\Host-03\Network Port(vSwitch0::221 45 925 19:vmnic0)\MBits  Transmitted/sec</text>
<line x1="65.5" x2="92.7" y1="314.22" y2="314.22" stroke="#31859C" stroke-width="1.8"/>
<text x="94.5" y="316.67" textLength="215.0" lengthAdjust="spacingAndGlyphs">\\Host-03\Network Port(vSwitch0::221 45 925 23:vmnic5)\MBits  Transmitted/sec</text>
<line x1="65.5" x2="92.7" y1="321.34" y2="321.34" stroke="#B9CDE5" stroke-width="1.8"/>
<text x="94.5" y="323.79" textLength="207.0" lengthAdjust="spacingAndGlyphs">\\Host-04\Network Port(vSwitch0::221 45 925 19:vmnic0)\MBits  Received/sec</text>
<line x1="65.5" x2="92.7" y1="328.46" y2="328.46" stroke="#D7E4BD" stroke-width="1.8"/>
<text x="94.5" y="330.91" textLength="207.0" lengthAdjust="spacingAndGlyphs">\\Host-04\Network Port(vSwitch0::221 45 925 22:vmnic5)\MBits  Received/sec</text>
<line x1="65.5" x2="92.7" y1="335.58" y2="335.58" stroke="#B7DEE8" stroke-width="1.8"/>
<text x="94.5" y="338.03" textLength="215.0" lengthAdjust="spacingAndGlyphs">\\Host-04\Network Port(vSwitch0::221 45 925 19:vmnic0)\MBits  Transmitted/sec</text>
<line x1="65.5" x2="92.7" y1="342.70" y2="342.70" stroke="#254061" stroke-width="1.8"/>
<text x="94.5" y="345.15" textLength="215.0" lengthAdjust="spacingAndGlyphs">\\Host-04\Network Port(vSwitch0::221 45 925 22:vmnic5)\MBits  Transmitted/sec</text>
<line x1="65.5" x2="92.7" y1="349.82" y2="349.82" stroke="#4F6228" stroke-width="1.8"/>
<text x="94.5" y="352.27" textLength="207.0" lengthAdjust="spacingAndGlyphs">\\Host-05\Network Port(vSwitch0::221 45 925 19:vmnic0)\MBits  Received/sec</text>
<line x1="65.5" x2="92.7" y1="356.94" y2="356.94" stroke="#215968" stroke-width="1.8"/>
<text x="94.5" y="359.39" textLength="207.0" lengthAdjust="spacingAndGlyphs">\\Host-05\Network Port(vSwitch0::221 45 925 23:vmnic2)\MBits  Received/sec</text>
<line x1="65.5" x2="92.7" y1="364.06" y2="364.06" stroke="#95B3D7" stroke-width="1.8"/>
<text x="94.5" y="366.51" textLength="215.0" lengthAdjust="spacingAndGlyphs">\\Host-05\Network Port(vSwitch0::221 45 925 19:vmnic0)\MBits  Transmitted/sec</text>
<line x1="65.5" x2="92.7" y1="371.18" y2="371.18" stroke="#C3D69B" stroke-width="1.8"/>
<text x="94.5" y="373.63" textLength="215.0" lengthAdjust="spacingAndGlyphs">\\Host-05\Network Port(vSwitch0::221 45 925 23:vmnic2)\MBits  Transmitted/sec</text>
<line x1="65.5" x2="92.7" y1="378.30" y2="378.30" stroke="#93CDDD" stroke-width="1.8"/>
<text x="94.5" y="380.75" textLength="207.0" lengthAdjust="spacingAndGlyphs">\\Host-06\Network Port(vSwitch0::221 45 925 19:vmnic0)\MBits  Received/sec</text>
<line x1="65.5" x2="92.7" y1="385.42" y2="385.42" stroke="#376092" stroke-width="1.8"/>
<text x="94.5" y="387.87" textLength="207.0" lengthAdjust="spacingAndGlyphs">\\Host-06\Network Port(vSwitch0::221 45 925 22:vmnic5)\MBits  Received/sec</text>
<line x1="65.5" x2="92.7" y1="392.54" y2="392.54" stroke="#77933C" stroke-width="1.8"/>
<text x="94.5" y="394.99" textLength="215.0" lengthAdjust="spacingAndGlyphs">\\Host-06\Network Port(vSwitch0::221 45 925 19:vmnic0)\MBits  Transmitted/sec</text>
<line x1="65.5" x2="92.7" y1="399.66" y2="399.66" stroke="#31859C" stroke-width="1.8"/>
<text x="94.5" y="402.11" textLength="215.0" lengthAdjust="spacingAndGlyphs">\\Host-06\Network Port(vSwitch0::221 45 925 22:vmnic5)\MBits  Transmitted/sec</text>
<line x1="65.5" x2="92.7" y1="406.78" y2="406.78" stroke="#B9CDE5" stroke-width="1.8"/>
<text x="94.5" y="409.23" textLength="204.0" lengthAdjust="spacingAndGlyphs">\\VDI-07\Network Port(vSwitch0:221 45 925 19:vmnic0)\MBits Received/sec</text>
<line x1="65.5" x2="92.7" y1="413.90" y2="413.90" stroke="#D7E4BD" stroke-width="1.8"/>
<text x="94.5" y="416.35" textLength="204.0" lengthAdjust="spacingAndGlyphs">\\VDI-07\Network Port(vSwitch0:221 45 925 21:vmnic2)\MBits Received/sec</text>
<line x1="65.5" x2="92.7" y1="421.02" y2="421.02" stroke="#B7DEE8" stroke-width="1.8"/>
<text x="94.5" y="423.47" textLength="211.0" lengthAdjust="spacingAndGlyphs">\\VDI-07\Network Port(vSwitch0:221 45 925 19:vmnic0)\MBits Transmitted/sec</text>
<line x1="398.3" x2="425.5" y1="235.90" y2="235.90" stroke="#C0504D" stroke-width="1.8"/>
<text x="427.3" y="238.35" textLength="204.0" lengthAdjust="spacingAndGlyphs">\\VDI-01\Network Port(vSwitch0:221 45 925 20:vmnic1)\MBits Received/sec</text>
<line x1="398.3" x2="425.5" y1="243.02" y2="243.02" stroke="#8064A2" stroke-width="1.8"/>
<text x="427.3" y="245.47" textLength="204.0" lengthAdjust="spacingAndGlyphs">\\VDI-01\Network Port(vSwitch0:221 45 925 24:vmnic5)\MBits Received/sec</text>
<line x1="398.3" x2="425.5" y1="250.14" y2="250.14" stroke="#F79646" stroke-width="1.8"/>
<text x="427.3" y="252.59" textLength="211.0" lengthAdjust="spacingAndGlyphs">\\VDI-01\Network Port(vSwitch0:221 45 925 20:vmnic1)\MBits Transmitted/sec</text>
<line x1="398.3" x2="425.5" y1="257.26" y2="257.26" stroke="#632523" stroke-width="1.8"/>
<text x="427.3" y="259.71" textLength="211.0" lengthAdjust="spacingAndGlyphs">\\VDI-01\Network Port(vSwitch0:221 45 925 24:vmnic5)\MBits Transmitted/sec</text>
<line x1="398.3" x2="425.5" y1="264.38" y2="264.38" stroke="#3F3151" stroke-width="1.8"/>
<text x="427.3" y="266.83" textLength="207.0" lengthAdjust="spacingAndGlyphs">\\Host-02\Network Port(vSwitch0::221 45 925 20:vmnic1)\MBits  Received/sec</text>
<line x1="398.3" x2="425.5" y1="271.50" y2="271.50" stroke="#984807" stroke-width="1.8"/>
<text x="427.3" y="273.95" textLength="207.0" lengthAdjust="spacingAndGlyphs">\\Host-02\Network Port(vSwitch0::221 45 925 24:vmnic2)\MBits  Received/sec</text>
<line x1="398.3" x2="425.5" y1="278.62" y2="278.62" stroke="#D99694" stroke-width="1.8"/>
<text x="427.3" y="281.07" textLength="215.0" lengthAdjust="spacingAndGlyphs">\\Host-02\Network Port(vSwitch0::221 45 925 20:vmnic1)\MBits  Transmitted/sec</text>
<line x1="398.3" x2="425.5" y1="285.74" y2="285.74" stroke="#B3A2C7" stroke-width="1.8"/>
<text x="427.3" y="288.19" textLength="215.0" lengthAdjust="spacingAndGlyphs">\\Host-02\Network Port(vSwitch0::221 45 925 24:vmnic2)\MBits  Transmitted/sec</text>
<line x1="398.3" x2="425.5" y1="292.86" y2="292.86" stroke="#FAC090" stroke-width="1.8"/>
<text x="427.3" y="295.31" textLength="207.0" lengthAdjust="spacingAndGlyphs">\\Host-03\Network Port(vSwitch0::221 45 925 21:vmnic1)\MBits  Received/sec</text>
<line x1="398.3" x2="425.5" y1="299.98" y2="299.98" stroke="#953735" stroke-width="1.8"/>
<text x="427.3" y="302.43" textLength="207.0" lengthAdjust="spacingAndGlyphs">\\Host-03\Network Port(vSwitch0::221 45 925 25:vmnic2)\MBits  Received/sec</text>
<line x1="398.3" x2="425.5" y1="307.10" y2="307.10" stroke="#604A7B" stroke-width="1.8"/>
<text x="427.3" y="309.55" textLength="215.0" lengthAdjust="spacingAndGlyphs">\\Host-03\Network Port(vSwitch0::221 45 925 21:vmnic1)\MBits  Transmitted/sec</text>
<line x1="398.3" x2="425.5" y1="314.22" y2="314.22" stroke="#E46C0A" stroke-width="1.8"/>
<text x="427.3" y="316.67" textLength="215.0" lengthAdjust="spacingAndGlyphs">\\Host-03\Network Port(vSwitch0::221 45 925 25:vmnic2)\MBits  Transmitted/sec</text>
<line x1="398.3" x2="425.5" y1="321.34" y2="321.34" stroke="#E6B9B8" stroke-width="1.8"/>
<text x="427.3" y="323.79" textLength="207.0" lengthAdjust="spacingAndGlyphs">\\Host-04\Network Port(vSwitch0::221 45 925 20:vmnic1)\MBits  Received/sec</text>
<line x1="398.3" x2="425.5" y1="328.46" y2="328.46" stroke="#CCC1DA" stroke-width="1.8"/>
<text x="427.3" y="330.91" textLength="207.0" lengthAdjust="spacingAndGlyphs">\\Host-04\Network Port(vSwitch0::221 45 925 24:vmnic2)\MBits  Received/sec</text>
<line x1="398.3" x2="425.5" y1="335.58" y2="335.58" stroke="#FCD5B5" stroke-width="1.8"/>
<text x="427.3" y="338.03" textLength="215.0" lengthAdjust="spacingAndGlyphs">\\Host-04\Network Port(vSwitch0::221 45 925 20:vmnic1)\MBits  Transmitted/sec</text>
<line x1="398.3" x2="425.5" y1="342.70" y2="342.70" stroke="#632523" stroke-width="1.8"/>
<text x="427.3" y="345.15" textLength="215.0" lengthAdjust="spacingAndGlyphs">\\Host-04\Network Port(vSwitch0::221 45 925 24:vmnic2)\MBits  Transmitted/sec</text>
<line x1="398.3" x2="425.5" y1="349.82" y2="349.82" stroke="#3F3151" stroke-width="1.8"/>
<text x="427.3" y="352.27" textLength="207.0" lengthAdjust="spacingAndGlyphs">\\Host-05\Network Port(vSwitch0::221 45 925 21:vmnic1)\MBits  Received/sec</text>
<line x1="398.3" x2="425.5" y1="356.94" y2="356.94" stroke="#984807" stroke-width="1.8"/>
<text x="427.3" y="359.39" textLength="207.0" lengthAdjust="spacingAndGlyphs">\\Host-05\Network Port(vSwitch0::221 45 925 25:vmnic5)\MBits  Received/sec</text>
<line x1="398.3" x2="425.5" y1="364.06" y2="364.06" stroke="#D99694" stroke-width="1.8"/>
<text x="427.3" y="366.51" textLength="215.0" lengthAdjust="spacingAndGlyphs">\\Host-05\Network Port(vSwitch0::221 45 925 21:vmnic1)\MBits  Transmitted/sec</text>
<line x1="398.3" x2="425.5" y1="371.18" y2="371.18" stroke="#B3A2C7" stroke-width="1.8"/>
<text x="427.3" y="373.63" textLength="215.0" lengthAdjust="spacingAndGlyphs">\\Host-05\Network Port(vSwitch0::221 45 925 25:vmnic5)\MBits  Transmitted/sec</text>
<line x1="398.3" x2="425.5" y1="378.30" y2="378.30" stroke="#FAC090" stroke-width="1.8"/>
<text x="427.3" y="380.75" textLength="207.0" lengthAdjust="spacingAndGlyphs">\\Host-06\Network Port(vSwitch0::221 45 925 20:vmnic1)\MBits  Received/sec</text>
<line x1="398.3" x2="425.5" y1="385.42" y2="385.42" stroke="#953735" stroke-width="1.8"/>
<text x="427.3" y="387.87" textLength="207.0" lengthAdjust="spacingAndGlyphs">\\Host-06\Network Port(vSwitch0::221 45 925 24:vmnic2)\MBits  Received/sec</text>
<line x1="398.3" x2="425.5" y1="392.54" y2="392.54" stroke="#604A7B" stroke-width="1.8"/>
<text x="427.3" y="394.99" textLength="215.0" lengthAdjust="spacingAndGlyphs">\\Host-06\Network Port(vSwitch0::221 45 925 20:vmnic1)\MBits  Transmitted/sec</text>
<line x1="398.3" x2="425.5" y1="399.66" y2="399.66" stroke="#E46C0A" stroke-width="1.8"/>
<text x="427.3" y="402.11" textLength="215.0" lengthAdjust="spacingAndGlyphs">\\Host-06\Network Port(vSwitch0::221 45 925 24:vmnic2)\MBits  Transmitted/sec</text>
<line x1="398.3" x2="425.5" y1="406.78" y2="406.78" stroke="#E6B9B8" stroke-width="1.8"/>
<text x="427.3" y="409.23" textLength="204.0" lengthAdjust="spacingAndGlyphs">\\VDI-07\Network Port(vSwitch0:221 45 925 20:vmnic1)\MBits Received/sec</text>
<line x1="398.3" x2="425.5" y1="413.90" y2="413.90" stroke="#CCC1DA" stroke-width="1.8"/>
<text x="427.3" y="416.35" textLength="204.0" lengthAdjust="spacingAndGlyphs">\\VDI-07\Network Port(vSwitch0:221 45 925 25:vmnic5)\MBits Received/sec</text>
<line x1="398.3" x2="425.5" y1="421.02" y2="421.02" stroke="#FCD5B5" stroke-width="1.8"/>
<text x="427.3" y="423.47" textLength="211.0" lengthAdjust="spacingAndGlyphs">\\VDI-07\Network Port(vSwitch0:221 45 925 20:vmnic1)\MBits Transmitted/sec</text>
</g>
</svg></body></html>
